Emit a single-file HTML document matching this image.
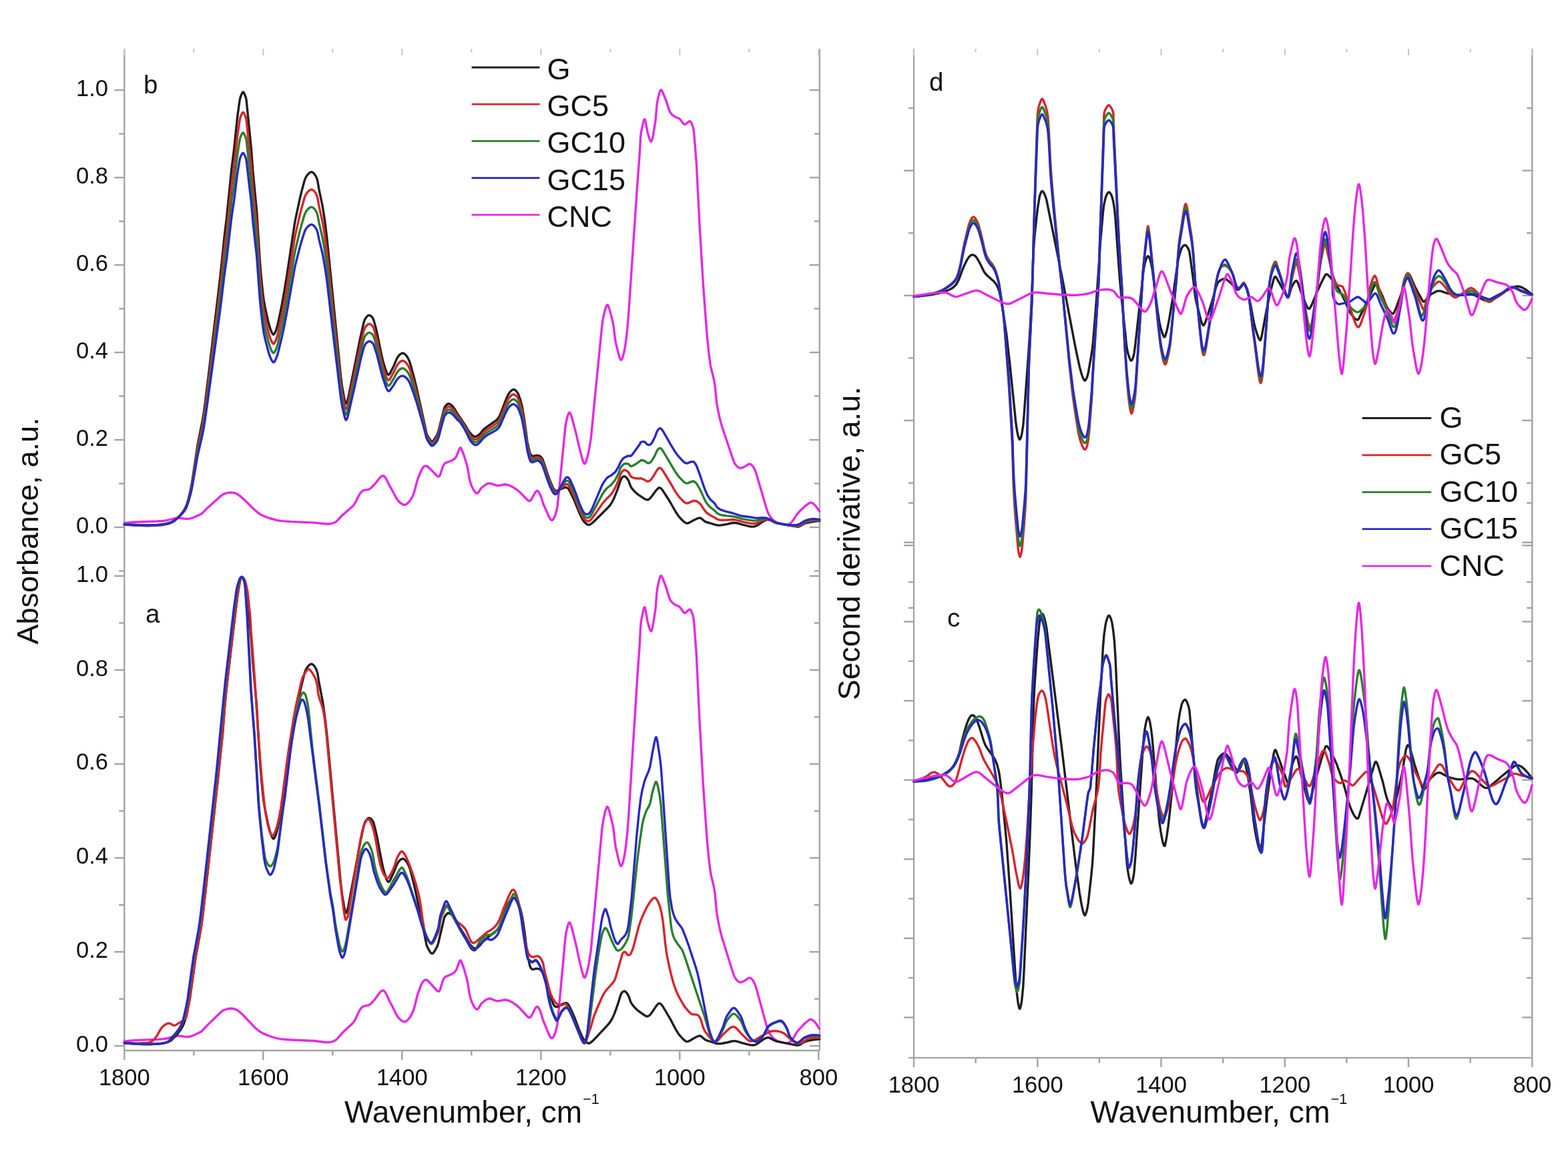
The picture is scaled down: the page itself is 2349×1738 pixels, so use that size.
<!DOCTYPE html>
<html><head><meta charset="utf-8"><style>
html,body{margin:0;padding:0;background:#fff;}
svg{display:block;}
text{font-family:"Liberation Sans",Arial,sans-serif;fill:#111;}
</style></head><body>
<svg xmlns="http://www.w3.org/2000/svg" width="2349" height="1738" viewBox="0 0 2349 1738">
<rect width="2349" height="1738" fill="#fff"/>
<line x1="186.3" y1="73.3" x2="186.3" y2="1574.0" stroke="#a3a3a3" stroke-width="2.4"/>
<line x1="1227.8" y1="73.3" x2="1227.8" y2="1574.0" stroke="#a3a3a3" stroke-width="2.4"/>
<line x1="186.3" y1="1574.0" x2="1227.8" y2="1574.0" stroke="#a3a3a3" stroke-width="2.4"/>
<line x1="178.3" y1="855.5" x2="186.3" y2="855.5" stroke="#a3a3a3" stroke-width="2.4"/>
<line x1="1219.8" y1="855.5" x2="1227.8" y2="855.5" stroke="#a3a3a3" stroke-width="2.4"/>
<line x1="171.3" y1="790.0" x2="186.3" y2="790.0" stroke="#a3a3a3" stroke-width="2.4"/>
<line x1="1212.8" y1="790.0" x2="1227.8" y2="790.0" stroke="#a3a3a3" stroke-width="2.4"/>
<text x="162.0" y="798.7" font-size="34.5" text-anchor="end" >0.0</text>
<line x1="178.3" y1="724.5" x2="186.3" y2="724.5" stroke="#a3a3a3" stroke-width="2.4"/>
<line x1="1219.8" y1="724.5" x2="1227.8" y2="724.5" stroke="#a3a3a3" stroke-width="2.4"/>
<line x1="171.3" y1="659.0" x2="186.3" y2="659.0" stroke="#a3a3a3" stroke-width="2.4"/>
<line x1="1212.8" y1="659.0" x2="1227.8" y2="659.0" stroke="#a3a3a3" stroke-width="2.4"/>
<text x="162.0" y="667.7" font-size="34.5" text-anchor="end" >0.2</text>
<line x1="178.3" y1="593.5" x2="186.3" y2="593.5" stroke="#a3a3a3" stroke-width="2.4"/>
<line x1="1219.8" y1="593.5" x2="1227.8" y2="593.5" stroke="#a3a3a3" stroke-width="2.4"/>
<line x1="171.3" y1="528.0" x2="186.3" y2="528.0" stroke="#a3a3a3" stroke-width="2.4"/>
<line x1="1212.8" y1="528.0" x2="1227.8" y2="528.0" stroke="#a3a3a3" stroke-width="2.4"/>
<text x="162.0" y="536.7" font-size="34.5" text-anchor="end" >0.4</text>
<line x1="178.3" y1="462.5" x2="186.3" y2="462.5" stroke="#a3a3a3" stroke-width="2.4"/>
<line x1="1219.8" y1="462.5" x2="1227.8" y2="462.5" stroke="#a3a3a3" stroke-width="2.4"/>
<line x1="171.3" y1="397.0" x2="186.3" y2="397.0" stroke="#a3a3a3" stroke-width="2.4"/>
<line x1="1212.8" y1="397.0" x2="1227.8" y2="397.0" stroke="#a3a3a3" stroke-width="2.4"/>
<text x="162.0" y="405.7" font-size="34.5" text-anchor="end" >0.6</text>
<line x1="178.3" y1="331.5" x2="186.3" y2="331.5" stroke="#a3a3a3" stroke-width="2.4"/>
<line x1="1219.8" y1="331.5" x2="1227.8" y2="331.5" stroke="#a3a3a3" stroke-width="2.4"/>
<line x1="171.3" y1="266.0" x2="186.3" y2="266.0" stroke="#a3a3a3" stroke-width="2.4"/>
<line x1="1212.8" y1="266.0" x2="1227.8" y2="266.0" stroke="#a3a3a3" stroke-width="2.4"/>
<text x="162.0" y="274.7" font-size="34.5" text-anchor="end" >0.8</text>
<line x1="178.3" y1="200.5" x2="186.3" y2="200.5" stroke="#a3a3a3" stroke-width="2.4"/>
<line x1="1219.8" y1="200.5" x2="1227.8" y2="200.5" stroke="#a3a3a3" stroke-width="2.4"/>
<line x1="171.3" y1="135.0" x2="186.3" y2="135.0" stroke="#a3a3a3" stroke-width="2.4"/>
<line x1="1212.8" y1="135.0" x2="1227.8" y2="135.0" stroke="#a3a3a3" stroke-width="2.4"/>
<text x="162.0" y="143.7" font-size="34.5" text-anchor="end" >1.0</text>
<line x1="171.3" y1="1567.0" x2="186.3" y2="1567.0" stroke="#a3a3a3" stroke-width="2.4"/>
<line x1="1212.8" y1="1567.0" x2="1227.8" y2="1567.0" stroke="#a3a3a3" stroke-width="2.4"/>
<text x="162.0" y="1575.7" font-size="34.5" text-anchor="end" >0.0</text>
<line x1="178.3" y1="1496.6" x2="186.3" y2="1496.6" stroke="#a3a3a3" stroke-width="2.4"/>
<line x1="1219.8" y1="1496.6" x2="1227.8" y2="1496.6" stroke="#a3a3a3" stroke-width="2.4"/>
<line x1="171.3" y1="1426.2" x2="186.3" y2="1426.2" stroke="#a3a3a3" stroke-width="2.4"/>
<line x1="1212.8" y1="1426.2" x2="1227.8" y2="1426.2" stroke="#a3a3a3" stroke-width="2.4"/>
<text x="162.0" y="1434.9" font-size="34.5" text-anchor="end" >0.2</text>
<line x1="178.3" y1="1355.8" x2="186.3" y2="1355.8" stroke="#a3a3a3" stroke-width="2.4"/>
<line x1="1219.8" y1="1355.8" x2="1227.8" y2="1355.8" stroke="#a3a3a3" stroke-width="2.4"/>
<line x1="171.3" y1="1285.4" x2="186.3" y2="1285.4" stroke="#a3a3a3" stroke-width="2.4"/>
<line x1="1212.8" y1="1285.4" x2="1227.8" y2="1285.4" stroke="#a3a3a3" stroke-width="2.4"/>
<text x="162.0" y="1294.1" font-size="34.5" text-anchor="end" >0.4</text>
<line x1="178.3" y1="1215.0" x2="186.3" y2="1215.0" stroke="#a3a3a3" stroke-width="2.4"/>
<line x1="1219.8" y1="1215.0" x2="1227.8" y2="1215.0" stroke="#a3a3a3" stroke-width="2.4"/>
<line x1="171.3" y1="1144.6" x2="186.3" y2="1144.6" stroke="#a3a3a3" stroke-width="2.4"/>
<line x1="1212.8" y1="1144.6" x2="1227.8" y2="1144.6" stroke="#a3a3a3" stroke-width="2.4"/>
<text x="162.0" y="1153.3" font-size="34.5" text-anchor="end" >0.6</text>
<line x1="178.3" y1="1074.2" x2="186.3" y2="1074.2" stroke="#a3a3a3" stroke-width="2.4"/>
<line x1="1219.8" y1="1074.2" x2="1227.8" y2="1074.2" stroke="#a3a3a3" stroke-width="2.4"/>
<line x1="171.3" y1="1003.8" x2="186.3" y2="1003.8" stroke="#a3a3a3" stroke-width="2.4"/>
<line x1="1212.8" y1="1003.8" x2="1227.8" y2="1003.8" stroke="#a3a3a3" stroke-width="2.4"/>
<text x="162.0" y="1012.5" font-size="34.5" text-anchor="end" >0.8</text>
<line x1="178.3" y1="933.4" x2="186.3" y2="933.4" stroke="#a3a3a3" stroke-width="2.4"/>
<line x1="1219.8" y1="933.4" x2="1227.8" y2="933.4" stroke="#a3a3a3" stroke-width="2.4"/>
<line x1="171.3" y1="863.0" x2="186.3" y2="863.0" stroke="#a3a3a3" stroke-width="2.4"/>
<line x1="1212.8" y1="863.0" x2="1227.8" y2="863.0" stroke="#a3a3a3" stroke-width="2.4"/>
<text x="162.0" y="871.7" font-size="34.5" text-anchor="end" >1.0</text>
<line x1="186.3" y1="1574.0" x2="186.3" y2="1588.0" stroke="#a3a3a3" stroke-width="2.4"/>
<line x1="186.3" y1="73.3" x2="186.3" y2="83.3" stroke="#c4c4c4" stroke-width="2.0"/>
<text x="186.3" y="1626.0" font-size="34.5" text-anchor="middle" >1800</text>
<line x1="290.3" y1="1574.0" x2="290.3" y2="1581.5" stroke="#a3a3a3" stroke-width="2.4"/>
<line x1="290.3" y1="73.3" x2="290.3" y2="78.3" stroke="#c4c4c4" stroke-width="2.0"/>
<line x1="394.3" y1="1574.0" x2="394.3" y2="1588.0" stroke="#a3a3a3" stroke-width="2.4"/>
<line x1="394.3" y1="73.3" x2="394.3" y2="83.3" stroke="#c4c4c4" stroke-width="2.0"/>
<text x="394.3" y="1626.0" font-size="34.5" text-anchor="middle" >1600</text>
<line x1="498.3" y1="1574.0" x2="498.3" y2="1581.5" stroke="#a3a3a3" stroke-width="2.4"/>
<line x1="498.3" y1="73.3" x2="498.3" y2="78.3" stroke="#c4c4c4" stroke-width="2.0"/>
<line x1="602.3" y1="1574.0" x2="602.3" y2="1588.0" stroke="#a3a3a3" stroke-width="2.4"/>
<line x1="602.3" y1="73.3" x2="602.3" y2="83.3" stroke="#c4c4c4" stroke-width="2.0"/>
<text x="602.3" y="1626.0" font-size="34.5" text-anchor="middle" >1400</text>
<line x1="706.3" y1="1574.0" x2="706.3" y2="1581.5" stroke="#a3a3a3" stroke-width="2.4"/>
<line x1="706.3" y1="73.3" x2="706.3" y2="78.3" stroke="#c4c4c4" stroke-width="2.0"/>
<line x1="810.3" y1="1574.0" x2="810.3" y2="1588.0" stroke="#a3a3a3" stroke-width="2.4"/>
<line x1="810.3" y1="73.3" x2="810.3" y2="83.3" stroke="#c4c4c4" stroke-width="2.0"/>
<text x="810.3" y="1626.0" font-size="34.5" text-anchor="middle" >1200</text>
<line x1="914.3" y1="1574.0" x2="914.3" y2="1581.5" stroke="#a3a3a3" stroke-width="2.4"/>
<line x1="914.3" y1="73.3" x2="914.3" y2="78.3" stroke="#c4c4c4" stroke-width="2.0"/>
<line x1="1018.3" y1="1574.0" x2="1018.3" y2="1588.0" stroke="#a3a3a3" stroke-width="2.4"/>
<line x1="1018.3" y1="73.3" x2="1018.3" y2="83.3" stroke="#c4c4c4" stroke-width="2.0"/>
<text x="1018.3" y="1626.0" font-size="34.5" text-anchor="middle" >1000</text>
<line x1="1122.3" y1="1574.0" x2="1122.3" y2="1581.5" stroke="#a3a3a3" stroke-width="2.4"/>
<line x1="1122.3" y1="73.3" x2="1122.3" y2="78.3" stroke="#c4c4c4" stroke-width="2.0"/>
<line x1="1226.3" y1="1574.0" x2="1226.3" y2="1588.0" stroke="#a3a3a3" stroke-width="2.4"/>
<line x1="1226.3" y1="73.3" x2="1226.3" y2="83.3" stroke="#c4c4c4" stroke-width="2.0"/>
<text x="1226.3" y="1626.0" font-size="34.5" text-anchor="middle" >800</text>
<text x="215.0" y="140.0" font-size="38.5" text-anchor="start" >b</text>
<text x="218.0" y="933.0" font-size="38.5" text-anchor="start" >a</text>
<line x1="1369.0" y1="73.3" x2="1369.0" y2="1584.9" stroke="#a3a3a3" stroke-width="2.4"/>
<line x1="2295.3" y1="73.3" x2="2295.3" y2="1584.9" stroke="#a3a3a3" stroke-width="2.4"/>
<line x1="1361.0" y1="1584.9" x2="2295.3" y2="1584.9" stroke="#a3a3a3" stroke-width="2.4"/>
<line x1="1361.0" y1="910.8" x2="1369.0" y2="910.8" stroke="#a3a3a3" stroke-width="2.4"/>
<line x1="2287.3" y1="910.8" x2="2295.3" y2="910.8" stroke="#a3a3a3" stroke-width="2.4"/>
<line x1="1354.0" y1="817.2" x2="1369.0" y2="817.2" stroke="#a3a3a3" stroke-width="2.4"/>
<line x1="2280.3" y1="817.2" x2="2295.3" y2="817.2" stroke="#a3a3a3" stroke-width="2.4"/>
<line x1="1361.0" y1="723.6" x2="1369.0" y2="723.6" stroke="#a3a3a3" stroke-width="2.4"/>
<line x1="2287.3" y1="723.6" x2="2295.3" y2="723.6" stroke="#a3a3a3" stroke-width="2.4"/>
<line x1="1354.0" y1="630.0" x2="1369.0" y2="630.0" stroke="#a3a3a3" stroke-width="2.4"/>
<line x1="2280.3" y1="630.0" x2="2295.3" y2="630.0" stroke="#a3a3a3" stroke-width="2.4"/>
<line x1="1361.0" y1="536.4" x2="1369.0" y2="536.4" stroke="#a3a3a3" stroke-width="2.4"/>
<line x1="2287.3" y1="536.4" x2="2295.3" y2="536.4" stroke="#a3a3a3" stroke-width="2.4"/>
<line x1="1354.0" y1="442.8" x2="1369.0" y2="442.8" stroke="#a3a3a3" stroke-width="2.4"/>
<line x1="2280.3" y1="442.8" x2="2295.3" y2="442.8" stroke="#a3a3a3" stroke-width="2.4"/>
<line x1="1361.0" y1="349.2" x2="1369.0" y2="349.2" stroke="#a3a3a3" stroke-width="2.4"/>
<line x1="2287.3" y1="349.2" x2="2295.3" y2="349.2" stroke="#a3a3a3" stroke-width="2.4"/>
<line x1="1354.0" y1="255.6" x2="1369.0" y2="255.6" stroke="#a3a3a3" stroke-width="2.4"/>
<line x1="2280.3" y1="255.6" x2="2295.3" y2="255.6" stroke="#a3a3a3" stroke-width="2.4"/>
<line x1="1361.0" y1="162.0" x2="1369.0" y2="162.0" stroke="#a3a3a3" stroke-width="2.4"/>
<line x1="2287.3" y1="162.0" x2="2295.3" y2="162.0" stroke="#a3a3a3" stroke-width="2.4"/>
<line x1="1354.0" y1="1524.4" x2="1369.0" y2="1524.4" stroke="#a3a3a3" stroke-width="2.4"/>
<line x1="2280.3" y1="1524.4" x2="2295.3" y2="1524.4" stroke="#a3a3a3" stroke-width="2.4"/>
<line x1="1361.0" y1="1465.1" x2="1369.0" y2="1465.1" stroke="#a3a3a3" stroke-width="2.4"/>
<line x1="2287.3" y1="1465.1" x2="2295.3" y2="1465.1" stroke="#a3a3a3" stroke-width="2.4"/>
<line x1="1354.0" y1="1405.8" x2="1369.0" y2="1405.8" stroke="#a3a3a3" stroke-width="2.4"/>
<line x1="2280.3" y1="1405.8" x2="2295.3" y2="1405.8" stroke="#a3a3a3" stroke-width="2.4"/>
<line x1="1361.0" y1="1346.5" x2="1369.0" y2="1346.5" stroke="#a3a3a3" stroke-width="2.4"/>
<line x1="2287.3" y1="1346.5" x2="2295.3" y2="1346.5" stroke="#a3a3a3" stroke-width="2.4"/>
<line x1="1354.0" y1="1287.2" x2="1369.0" y2="1287.2" stroke="#a3a3a3" stroke-width="2.4"/>
<line x1="2280.3" y1="1287.2" x2="2295.3" y2="1287.2" stroke="#a3a3a3" stroke-width="2.4"/>
<line x1="1361.0" y1="1227.9" x2="1369.0" y2="1227.9" stroke="#a3a3a3" stroke-width="2.4"/>
<line x1="2287.3" y1="1227.9" x2="2295.3" y2="1227.9" stroke="#a3a3a3" stroke-width="2.4"/>
<line x1="1354.0" y1="1168.6" x2="1369.0" y2="1168.6" stroke="#a3a3a3" stroke-width="2.4"/>
<line x1="2280.3" y1="1168.6" x2="2295.3" y2="1168.6" stroke="#a3a3a3" stroke-width="2.4"/>
<line x1="1361.0" y1="1109.3" x2="1369.0" y2="1109.3" stroke="#a3a3a3" stroke-width="2.4"/>
<line x1="2287.3" y1="1109.3" x2="2295.3" y2="1109.3" stroke="#a3a3a3" stroke-width="2.4"/>
<line x1="1354.0" y1="1050.0" x2="1369.0" y2="1050.0" stroke="#a3a3a3" stroke-width="2.4"/>
<line x1="2280.3" y1="1050.0" x2="2295.3" y2="1050.0" stroke="#a3a3a3" stroke-width="2.4"/>
<line x1="1361.0" y1="990.7" x2="1369.0" y2="990.7" stroke="#a3a3a3" stroke-width="2.4"/>
<line x1="2287.3" y1="990.7" x2="2295.3" y2="990.7" stroke="#a3a3a3" stroke-width="2.4"/>
<line x1="1354.0" y1="931.4" x2="1369.0" y2="931.4" stroke="#a3a3a3" stroke-width="2.4"/>
<line x1="2280.3" y1="931.4" x2="2295.3" y2="931.4" stroke="#a3a3a3" stroke-width="2.4"/>
<line x1="1361.0" y1="872.1" x2="1369.0" y2="872.1" stroke="#a3a3a3" stroke-width="2.4"/>
<line x1="2287.3" y1="872.1" x2="2295.3" y2="872.1" stroke="#a3a3a3" stroke-width="2.4"/>
<line x1="1354.0" y1="812.8" x2="1369.0" y2="812.8" stroke="#a3a3a3" stroke-width="2.4"/>
<line x1="2280.3" y1="812.8" x2="2295.3" y2="812.8" stroke="#a3a3a3" stroke-width="2.4"/>
<line x1="1361.0" y1="753.5" x2="1369.0" y2="753.5" stroke="#a3a3a3" stroke-width="2.4"/>
<line x1="2287.3" y1="753.5" x2="2295.3" y2="753.5" stroke="#a3a3a3" stroke-width="2.4"/>
<line x1="1369.0" y1="1584.9" x2="1369.0" y2="1598.9" stroke="#a3a3a3" stroke-width="2.4"/>
<line x1="1369.0" y1="73.3" x2="1369.0" y2="83.3" stroke="#c4c4c4" stroke-width="2.0"/>
<text x="1369.0" y="1637.0" font-size="34.5" text-anchor="middle" >1800</text>
<line x1="1461.6" y1="1584.9" x2="1461.6" y2="1592.9" stroke="#a3a3a3" stroke-width="2.4"/>
<line x1="1461.6" y1="73.3" x2="1461.6" y2="78.3" stroke="#c4c4c4" stroke-width="2.0"/>
<line x1="1554.3" y1="1584.9" x2="1554.3" y2="1598.9" stroke="#a3a3a3" stroke-width="2.4"/>
<line x1="1554.3" y1="73.3" x2="1554.3" y2="83.3" stroke="#c4c4c4" stroke-width="2.0"/>
<text x="1554.3" y="1637.0" font-size="34.5" text-anchor="middle" >1600</text>
<line x1="1646.9" y1="1584.9" x2="1646.9" y2="1592.9" stroke="#a3a3a3" stroke-width="2.4"/>
<line x1="1646.9" y1="73.3" x2="1646.9" y2="78.3" stroke="#c4c4c4" stroke-width="2.0"/>
<line x1="1739.5" y1="1584.9" x2="1739.5" y2="1598.9" stroke="#a3a3a3" stroke-width="2.4"/>
<line x1="1739.5" y1="73.3" x2="1739.5" y2="83.3" stroke="#c4c4c4" stroke-width="2.0"/>
<text x="1739.5" y="1637.0" font-size="34.5" text-anchor="middle" >1400</text>
<line x1="1832.2" y1="1584.9" x2="1832.2" y2="1592.9" stroke="#a3a3a3" stroke-width="2.4"/>
<line x1="1832.2" y1="73.3" x2="1832.2" y2="78.3" stroke="#c4c4c4" stroke-width="2.0"/>
<line x1="1924.8" y1="1584.9" x2="1924.8" y2="1598.9" stroke="#a3a3a3" stroke-width="2.4"/>
<line x1="1924.8" y1="73.3" x2="1924.8" y2="83.3" stroke="#c4c4c4" stroke-width="2.0"/>
<text x="1924.8" y="1637.0" font-size="34.5" text-anchor="middle" >1200</text>
<line x1="2017.4" y1="1584.9" x2="2017.4" y2="1592.9" stroke="#a3a3a3" stroke-width="2.4"/>
<line x1="2017.4" y1="73.3" x2="2017.4" y2="78.3" stroke="#c4c4c4" stroke-width="2.0"/>
<line x1="2110.0" y1="1584.9" x2="2110.0" y2="1598.9" stroke="#a3a3a3" stroke-width="2.4"/>
<line x1="2110.0" y1="73.3" x2="2110.0" y2="83.3" stroke="#c4c4c4" stroke-width="2.0"/>
<text x="2110.0" y="1637.0" font-size="34.5" text-anchor="middle" >1000</text>
<line x1="2202.7" y1="1584.9" x2="2202.7" y2="1592.9" stroke="#a3a3a3" stroke-width="2.4"/>
<line x1="2202.7" y1="73.3" x2="2202.7" y2="78.3" stroke="#c4c4c4" stroke-width="2.0"/>
<line x1="2295.3" y1="1584.9" x2="2295.3" y2="1598.9" stroke="#a3a3a3" stroke-width="2.4"/>
<line x1="2295.3" y1="73.3" x2="2295.3" y2="83.3" stroke="#c4c4c4" stroke-width="2.0"/>
<text x="2295.3" y="1637.0" font-size="34.5" text-anchor="middle" >800</text>
<text x="1392.0" y="136.0" font-size="38.5" text-anchor="start" >d</text>
<text x="1419.0" y="939.0" font-size="38.5" text-anchor="start" >c</text>
<text x="57" y="795.5" font-size="45" text-anchor="middle" transform="rotate(-90 57 795.5)">Absorbance, a.u.</text>
<text x="1288" y="814" font-size="46.2" text-anchor="middle" transform="rotate(-90 1288 814)">Second derivative, a.u.</text>
<text x="516" y="1682" font-size="46">Wavenumber, cm<tspan font-size="21.5" dx="1" dy="-28">−1</tspan></text>
<text x="1633.5" y="1682" font-size="46.4">Wavenumber, cm<tspan font-size="21.5" dx="1" dy="-28">−1</tspan></text>
<line x1="706.6" y1="101.0" x2="808.5" y2="101.0" stroke="#1e1e1e" stroke-width="2.8"/>
<text x="819.5" y="119.0" font-size="45" text-anchor="start" >G</text>
<line x1="706.6" y1="156.2" x2="808.5" y2="156.2" stroke="#d8242c" stroke-width="2.8"/>
<text x="819.5" y="174.2" font-size="45" text-anchor="start" >GC5</text>
<line x1="706.6" y1="211.4" x2="808.5" y2="211.4" stroke="#2a7f2a" stroke-width="2.8"/>
<text x="819.5" y="229.4" font-size="45" text-anchor="start" >GC10</text>
<line x1="706.6" y1="266.6" x2="808.5" y2="266.6" stroke="#2828c8" stroke-width="2.8"/>
<text x="819.5" y="284.6" font-size="45" text-anchor="start" >GC15</text>
<line x1="706.6" y1="321.8" x2="808.5" y2="321.8" stroke="#e628e6" stroke-width="2.8"/>
<text x="819.5" y="339.8" font-size="45" text-anchor="start" >CNC</text>
<line x1="2040.7" y1="626.5" x2="2144.3" y2="626.5" stroke="#1e1e1e" stroke-width="2.8"/>
<text x="2156.5" y="641.0" font-size="45" text-anchor="start" >G</text>
<line x1="2040.7" y1="681.9" x2="2144.3" y2="681.9" stroke="#d8242c" stroke-width="2.8"/>
<text x="2156.5" y="696.4" font-size="45" text-anchor="start" >GC5</text>
<line x1="2040.7" y1="737.3" x2="2144.3" y2="737.3" stroke="#2a7f2a" stroke-width="2.8"/>
<text x="2156.5" y="751.8" font-size="45" text-anchor="start" >GC10</text>
<line x1="2040.7" y1="792.7" x2="2144.3" y2="792.7" stroke="#2828c8" stroke-width="2.8"/>
<text x="2156.5" y="807.2" font-size="45" text-anchor="start" >GC15</text>
<line x1="2040.7" y1="848.1" x2="2144.3" y2="848.1" stroke="#e628e6" stroke-width="2.8"/>
<text x="2156.5" y="862.6" font-size="45" text-anchor="start" >CNC</text>
<g fill="none" stroke-width="3.4" stroke-linejoin="round" stroke-linecap="round">
<path d="M186.3,783.7 195.3,782.7 201.1,782.2 235.8,781.0 243.8,780.5 249.6,779.7 261.1,776.9 266.6,776.0 269.1,776.1 274.8,777.0 280.1,777.4 283.3,777.2 286.1,776.7 289.3,775.5 297.8,771.9 300.1,770.8 302.1,769.5 304.3,767.6 309.8,762.0 330.3,743.5 332.8,741.5 335.3,740.2 339.1,738.9 342.6,738.1 345.6,737.9 348.6,738.1 351.6,738.7 354.1,739.6 356.3,740.8 359.8,743.4 363.6,746.6 368.3,751.1 379.1,761.8 382.8,765.2 386.3,768.0 390.3,770.7 394.1,772.7 398.6,774.6 404.3,776.5 411.1,778.5 415.8,779.6 420.1,780.4 425.6,780.9 436.1,781.6 471.1,783.1 488.3,785.0 492.8,785.0 496.8,784.4 500.8,783.1 502.6,782.2 504.1,781.1 506.3,779.0 512.3,772.4 526.3,760.3 528.8,758.0 530.5,755.8 532.3,753.1 536.8,744.0 538.5,740.8 540.0,738.6 541.8,736.6 543.3,735.5 544.8,734.7 551.8,733.3 553.3,732.8 554.8,731.9 557.8,729.1 562.0,724.7 569.5,715.2 571.3,713.7 572.8,712.9 574.0,712.8 575.3,713.3 576.5,714.5 577.8,716.2 579.5,719.4 583.5,727.6 587.3,734.2 592.3,743.7 594.5,747.5 596.5,750.3 599.8,753.5 601.5,754.7 603.3,755.7 604.8,756.2 606.0,756.4 607.3,756.2 608.5,755.7 611.0,753.7 613.8,750.6 616.3,746.8 618.8,741.9 621.0,735.8 624.3,722.8 626.0,717.2 631.0,705.0 632.8,701.8 634.3,699.8 635.8,698.5 637.3,698.0 638.8,698.2 640.3,698.9 643.5,701.6 654.5,712.8 656.3,714.0 657.0,714.0 657.5,713.9 658.5,712.9 659.5,711.0 663.0,700.2 664.0,697.8 665.3,695.6 666.3,694.5 667.5,693.6 675.8,690.5 679.3,688.5 681.5,686.8 683.0,684.8 684.3,682.5 688.3,672.5 689.0,671.3 689.8,670.8 690.3,671.0 691.0,672.2 693.5,678.2 696.0,685.4 699.0,695.3 700.8,702.7 703.3,717.4 704.3,721.6 705.3,724.8 707.0,729.2 709.0,733.3 711.0,736.4 713.0,738.5 713.8,739.0 714.5,739.1 715.8,738.6 717.3,736.8 720.5,731.9 722.3,730.0 727.3,726.3 729.3,725.2 731.3,724.4 733.3,724.2 735.3,724.4 742.3,726.9 745.3,727.5 748.3,727.3 755.0,726.0 756.8,725.8 758.5,726.0 761.8,726.8 765.5,728.4 769.5,730.6 774.3,733.7 778.8,737.5 789.3,748.3 791.5,750.1 793.0,750.6 793.8,750.4 794.5,750.0 796.0,748.2 797.5,745.8 801.0,739.3 802.5,737.0 804.0,735.6 804.8,735.4 805.3,735.4 806.0,735.9 807.0,737.1 809.3,741.3 810.5,744.5 814.0,755.3 822.3,774.1 824.0,777.1 825.5,778.9 826.5,779.4 827.0,779.4 827.8,779.0 828.8,777.9 829.8,776.3 831.8,771.6 833.8,765.1 835.0,759.0 837.0,740.3 847.0,639.1 847.8,634.1 849.3,627.1 850.8,622.0 852.0,619.1 853.0,618.0 853.5,618.1 854.0,618.7 855.5,622.1 857.0,626.8 863.3,650.6 868.3,672.6 872.3,687.4 874.0,692.6 874.8,694.1 875.3,694.7 875.8,694.8 876.5,694.3 877.3,693.0 878.0,691.3 880.0,684.6 881.8,676.9 883.5,667.8 884.8,659.8 886.0,649.8 889.3,615.2 901.8,488.5 903.0,480.0 904.8,470.9 906.5,463.8 908.3,458.8 909.0,457.4 909.5,456.8 910.0,456.7 910.8,457.5 911.5,458.9 912.5,461.6 914.5,468.6 917.8,481.5 918.8,486.5 919.8,493.3 921.3,506.1 922.5,513.8 926.5,529.9 928.5,536.6 929.8,539.0 930.3,539.3 931.0,539.0 931.8,537.8 932.5,536.1 934.3,530.2 936.3,520.5 937.8,510.2 939.8,492.4 941.5,472.7 954.5,280.5 958.5,227.1 959.5,206.8 960.3,199.6 961.0,195.3 963.8,182.6 964.8,179.5 965.3,178.6 965.8,178.6 966.3,179.3 967.0,181.8 970.0,197.9 971.8,204.4 973.0,208.1 974.3,210.9 974.8,211.7 975.3,212.1 975.8,211.8 976.0,211.4 977.3,207.7 978.5,202.3 981.5,184.3 982.3,177.7 983.8,159.4 985.0,150.9 987.0,142.3 988.3,137.8 989.3,135.5 989.8,134.9 990.3,134.7 990.8,135.0 991.5,135.8 993.3,139.2 998.3,152.1 1002.5,164.9 1003.8,167.8 1005.3,170.1 1007.5,172.4 1010.5,174.6 1012.3,175.5 1016.3,177.0 1018.0,178.1 1019.8,179.9 1023.3,184.8 1025.0,186.3 1026.0,186.5 1027.0,186.1 1032.0,182.0 1033.0,181.5 1034.0,181.7 1035.3,183.3 1037.0,187.0 1038.3,190.8 1039.0,194.2 1040.0,202.9 1043.3,244.5 1047.8,333.0 1053.5,427.4 1058.8,497.8 1060.3,514.1 1062.0,529.9 1064.5,548.3 1065.8,553.9 1069.0,566.5 1070.3,572.7 1071.3,579.9 1073.0,597.7 1074.0,605.8 1075.3,612.8 1077.5,623.6 1079.8,632.6 1082.0,640.3 1098.8,690.3 1100.5,694.1 1102.8,697.4 1105.3,699.8 1106.5,700.6 1107.8,701.1 1108.8,701.3 1110.0,701.3 1112.5,700.5 1116.8,698.5 1121.0,695.6 1122.5,695.1 1123.8,695.2 1125.3,696.1 1127.0,697.7 1128.5,699.6 1130.8,703.7 1132.8,709.0 1147.3,758.4 1150.0,767.0 1152.3,771.6 1155.0,775.6 1158.5,779.4 1161.8,781.8 1164.3,783.0 1167.0,784.0 1175.0,785.9 1177.3,786.2 1179.3,786.1 1181.0,785.8 1182.5,785.1 1184.8,783.5 1187.0,781.0 1188.8,778.6 1193.3,771.4 1196.8,767.3 1202.3,761.9 1207.0,757.6 1211.3,754.3 1213.5,753.2 1215.0,753.2 1216.3,753.5 1217.8,754.2 1219.3,755.4 1221.0,757.2 1222.8,759.3 1227.3,765.8 1227.8,765.8" stroke="#e628e6"/>
<path d="M186.3,786.0 198.3,786.9 208.3,787.4 220.6,787.7 228.8,787.6 237.3,787.1 243.1,786.5 250.8,785.1 255.8,783.5 259.8,781.5 263.6,778.5 268.6,773.5 273.3,767.8 276.1,763.6 278.3,759.3 280.1,754.8 282.1,748.0 284.1,740.0 287.3,724.7 296.1,666.3 303.3,630.0 305.1,619.7 306.8,607.4 312.3,562.9 329.6,417.2 332.8,387.1 336.1,354.7 339.6,325.8 346.8,253.7 350.8,221.7 355.3,178.1 358.6,153.5 359.6,147.7 360.6,144.3 362.1,140.8 363.3,138.5 364.1,137.9 364.6,138.0 365.3,138.9 367.3,143.2 368.3,146.1 369.1,150.0 376.3,221.7 378.8,255.6 384.6,316.1 389.3,391.1 391.3,415.0 393.6,438.0 395.1,449.2 397.1,460.5 401.6,480.9 404.6,491.7 406.1,495.8 407.6,499.0 409.1,501.0 409.6,501.3 410.1,501.2 411.3,499.8 413.1,496.1 414.8,490.9 416.3,485.2 422.3,456.4 425.3,439.7 430.1,410.5 440.8,338.9 442.3,329.9 449.1,298.0 451.8,286.9 455.8,272.0 457.1,268.0 458.6,264.8 460.6,262.0 463.1,259.4 464.8,258.1 466.6,257.7 468.1,258.1 469.8,259.4 471.8,261.8 473.6,264.8 474.8,267.7 475.8,271.2 477.8,283.1 483.3,309.5 486.1,327.2 488.3,344.1 490.1,359.5 510.6,564.5 512.5,579.1 515.5,595.6 517.0,602.2 517.8,604.2 518.3,604.8 518.5,604.9 519.0,604.5 519.8,603.0 521.8,595.5 540.0,504.9 545.0,483.1 546.5,478.8 547.5,477.0 548.8,475.3 550.3,473.7 551.5,472.8 552.8,472.3 553.8,472.4 555.5,473.3 557.5,475.2 559.0,477.6 560.0,480.1 562.8,490.3 564.8,498.6 570.8,528.2 573.5,540.3 575.0,545.6 578.3,555.7 579.5,558.8 580.8,560.9 581.5,561.5 582.3,561.5 583.3,560.7 584.3,559.4 590.0,547.9 593.5,539.6 595.0,536.5 597.5,532.8 598.8,531.5 600.3,530.2 601.8,529.4 603.0,529.1 604.3,529.3 605.8,530.1 607.3,531.4 609.0,533.3 610.5,535.5 612.0,538.2 613.5,541.7 615.0,546.1 620.5,566.4 624.8,584.6 636.8,638.7 638.8,648.4 639.5,650.6 640.8,653.3 643.8,658.2 645.5,660.4 646.5,661.1 647.3,661.3 648.3,661.0 649.3,660.2 651.5,657.1 655.0,651.1 656.8,646.1 665.3,612.4 666.0,610.6 667.3,608.5 668.8,606.7 670.3,605.4 671.8,604.9 672.8,605.0 673.8,605.3 676.0,606.8 678.3,609.0 680.8,612.4 685.5,620.3 696.5,636.4 701.0,644.1 703.5,647.8 706.0,650.7 708.5,652.9 710.8,654.1 711.8,654.3 712.8,654.2 715.0,653.2 718.0,650.9 720.3,648.6 724.0,643.9 725.8,642.2 741.5,631.1 744.0,629.1 746.0,627.0 747.8,624.5 749.3,621.5 757.8,599.1 759.8,594.4 761.5,591.0 764.0,587.3 765.5,585.7 766.8,584.6 768.0,583.9 769.0,583.6 770.0,583.7 771.0,584.0 772.5,585.1 774.0,586.7 775.5,588.7 776.5,590.6 779.3,598.3 781.5,606.2 782.8,612.4 785.8,630.8 790.0,661.8 791.3,668.0 793.3,676.4 794.0,679.0 794.8,680.6 796.3,682.5 797.0,683.0 798.0,683.4 799.3,683.4 803.3,682.3 805.5,682.4 807.5,682.8 808.8,683.3 809.8,684.1 811.8,686.4 812.8,688.1 813.8,690.5 820.3,710.3 823.8,719.8 828.5,730.9 829.8,733.1 831.0,734.6 831.8,735.1 832.8,735.5 834.5,735.4 843.8,731.2 847.0,730.3 848.3,730.3 849.3,730.6 850.5,731.5 851.5,732.5 853.8,736.2 859.0,746.8 861.5,752.5 868.0,768.6 872.5,778.1 873.8,780.2 875.5,782.2 878.5,784.9 880.5,786.2 882.0,786.5 883.5,786.1 886.0,784.5 889.0,782.1 893.0,778.3 909.5,761.7 912.3,758.8 914.3,756.4 917.5,751.3 920.5,745.0 926.0,730.9 928.8,721.9 930.3,718.1 931.3,716.4 932.5,714.9 934.0,714.0 935.3,713.7 936.3,714.0 937.5,714.8 939.0,716.3 940.5,718.3 942.0,721.1 944.3,727.6 945.3,729.7 947.0,732.2 950.0,735.7 953.3,738.8 956.8,741.6 965.3,747.2 968.0,748.6 969.5,748.8 970.8,748.7 972.3,747.9 973.8,746.7 976.5,743.5 983.0,734.6 985.8,731.7 986.8,731.0 987.8,730.7 988.8,730.9 989.8,731.4 991.0,732.6 992.3,734.1 996.0,739.7 1003.8,752.0 1012.0,766.5 1015.8,772.2 1019.0,776.2 1023.8,781.0 1026.3,783.0 1028.5,783.9 1030.0,784.0 1031.8,783.5 1039.0,779.6 1043.8,777.2 1046.5,776.2 1048.3,776.0 1049.3,776.2 1050.5,776.8 1055.3,780.7 1057.5,782.0 1071.3,786.2 1074.0,786.8 1077.0,787.1 1080.8,786.7 1089.0,785.4 1096.8,783.5 1100.5,783.2 1104.5,783.8 1112.5,786.2 1121.5,788.4 1125.0,789.0 1128.0,789.1 1130.5,788.7 1133.0,787.8 1135.5,786.4 1141.3,782.5 1145.8,779.9 1148.5,778.8 1150.8,778.5 1152.3,778.7 1154.0,779.3 1160.3,782.6 1163.3,783.6 1189.5,788.4 1195.0,789.2 1196.5,789.0 1198.3,788.4 1204.5,784.7 1207.5,783.6 1218.5,781.5 1223.3,780.9 1227.8,780.6" stroke="#1e1e1e"/>
<path d="M186.3,785.9 209.1,787.2 220.8,787.4 229.1,787.2 237.6,786.8 243.1,786.2 250.6,784.8 255.6,783.3 259.6,781.4 263.3,778.6 268.6,773.6 273.3,768.2 276.1,764.3 278.3,760.2 280.1,755.9 282.1,749.5 284.1,741.9 287.3,727.3 296.1,671.6 303.1,638.2 304.8,628.6 306.6,617.1 312.3,572.7 329.6,433.5 336.1,374.0 339.6,346.4 346.8,277.9 350.8,247.5 355.3,206.2 358.6,183.0 359.6,177.5 360.6,174.3 362.1,171.0 363.3,168.9 364.1,168.3 364.6,168.5 365.3,169.4 367.3,173.5 368.3,176.4 369.1,180.0 376.3,248.6 378.8,280.9 384.6,338.6 389.3,410.1 391.3,432.8 393.6,454.7 395.1,465.4 397.1,476.2 401.6,495.6 404.6,506.0 406.1,509.9 407.6,512.9 409.1,514.9 409.6,515.1 410.1,515.0 411.3,513.8 413.1,510.3 414.8,505.4 416.3,499.9 422.3,472.6 425.3,456.8 430.1,429.0 440.8,361.0 442.3,352.5 449.1,322.2 451.8,311.7 455.8,297.5 457.1,293.8 458.6,290.7 460.6,288.0 463.1,285.5 464.8,284.4 466.6,283.9 468.1,284.3 469.8,285.6 471.8,287.8 473.6,290.7 474.8,293.5 475.8,296.8 477.8,308.1 483.3,333.2 486.1,350.1 488.3,366.2 490.1,380.8 510.6,575.0 512.5,588.8 515.5,604.3 517.0,610.5 517.8,612.4 518.3,612.9 518.5,613.0 519.0,612.6 519.8,611.1 520.8,607.9 522.0,602.8 540.0,516.6 545.0,495.6 546.5,491.6 547.5,489.9 548.8,488.2 550.3,486.7 551.5,485.8 552.8,485.4 554.0,485.4 556.0,486.5 558.0,488.5 559.3,490.6 560.3,493.2 564.8,509.8 571.0,538.6 573.5,548.9 578.3,563.8 579.5,566.9 580.8,568.9 581.5,569.6 582.3,569.7 583.3,569.0 584.3,567.8 590.0,557.4 593.5,549.9 595.0,547.1 597.5,543.7 600.3,541.4 601.8,540.7 603.0,540.4 604.3,540.7 605.8,541.4 607.5,542.8 609.3,544.7 610.8,546.8 612.3,549.4 614.0,553.4 615.5,557.8 619.5,571.3 623.0,584.4 633.5,627.9 638.8,650.9 639.5,653.0 640.8,655.6 643.8,660.4 645.5,662.6 646.5,663.3 647.3,663.5 648.3,663.3 649.3,662.6 652.0,659.0 654.0,656.0 655.3,653.7 656.8,649.5 665.3,616.6 666.3,614.3 667.5,612.4 669.0,610.8 670.5,609.6 671.5,609.3 672.3,609.2 674.0,609.7 676.3,611.1 678.8,613.5 680.8,616.1 684.8,622.3 690.0,629.1 695.0,636.5 697.5,640.6 702.3,649.4 704.5,652.7 707.0,655.6 709.3,657.4 711.3,658.3 713.0,658.4 715.3,657.4 717.8,655.3 720.0,653.0 724.0,648.1 726.0,646.3 730.3,643.2 742.0,635.5 744.5,633.5 746.3,631.8 747.8,629.7 749.3,626.8 757.5,606.0 759.5,601.5 761.3,598.2 763.8,594.7 766.5,592.0 767.8,591.3 768.8,591.0 769.8,591.0 770.8,591.3 772.3,592.3 773.8,593.7 775.3,595.6 776.3,597.3 778.5,603.1 781.3,611.9 782.5,617.5 785.5,634.9 790.0,666.2 791.3,672.1 793.3,680.1 794.0,682.5 794.8,684.1 796.3,685.8 797.0,686.2 798.0,686.5 799.3,686.3 802.0,685.3 803.3,685.0 805.0,685.0 806.8,685.3 809.0,686.4 810.0,687.2 811.3,688.8 812.5,690.8 813.5,693.1 820.5,714.0 824.0,723.3 828.5,733.3 829.8,735.3 831.0,736.5 831.8,737.0 832.8,737.2 833.8,737.0 835.0,736.4 844.3,727.8 847.3,725.6 848.5,725.3 849.5,725.5 850.8,726.2 851.8,727.2 854.0,730.7 858.8,740.6 861.8,747.7 868.0,763.8 872.5,773.6 873.8,775.8 875.3,777.6 877.3,779.3 879.5,780.7 881.0,781.1 882.5,780.8 884.0,779.8 885.8,778.0 891.0,771.1 902.8,754.1 907.8,748.3 914.0,742.2 916.8,738.9 920.3,733.2 922.8,728.2 926.3,720.1 928.8,712.7 930.0,709.7 931.5,707.2 933.5,705.1 935.0,704.4 936.3,704.3 937.8,704.8 939.8,706.0 941.0,707.1 942.0,708.4 944.8,713.6 945.8,714.5 947.0,715.2 950.0,716.2 953.0,716.8 958.0,717.0 958.8,717.0 959.5,716.6 960.3,716.7 964.5,718.4 969.0,721.0 970.8,721.3 971.8,721.0 973.0,720.4 974.3,719.5 975.5,718.2 979.5,712.4 984.5,703.9 986.5,701.8 987.5,701.2 988.3,701.1 989.3,701.3 990.5,702.2 991.8,703.6 993.5,706.0 1004.3,723.6 1011.5,736.1 1014.8,741.1 1018.5,745.8 1024.3,751.6 1025.8,752.8 1027.0,753.5 1028.3,753.9 1029.5,754.0 1031.5,753.6 1036.8,751.1 1039.0,750.3 1039.8,750.2 1041.8,750.5 1043.8,751.0 1047.3,753.4 1049.3,755.3 1051.0,757.7 1055.5,764.6 1057.0,766.5 1059.0,768.5 1064.0,772.0 1069.8,774.9 1073.5,777.5 1075.3,778.3 1078.3,779.0 1081.5,779.2 1089.0,779.1 1096.5,778.5 1100.3,778.7 1104.0,779.4 1113.5,782.1 1124.0,784.2 1128.5,784.6 1131.3,784.3 1134.0,783.6 1141.3,780.3 1146.3,778.5 1148.3,778.0 1150.3,778.0 1153.3,778.8 1160.3,782.5 1163.8,783.7 1182.0,787.0 1187.8,787.7 1194.0,788.2 1195.8,788.1 1197.5,787.6 1199.5,786.6 1205.0,783.2 1207.0,782.5 1209.8,781.7 1214.3,780.7 1218.5,780.1 1222.8,779.9 1227.8,779.9" stroke="#d8242c"/>
<path d="M186.3,785.8 209.6,786.9 221.1,787.1 229.1,786.9 237.3,786.5 242.8,785.9 250.1,784.7 255.1,783.3 259.1,781.5 262.8,778.9 268.3,774.0 273.3,768.7 276.1,765.0 278.3,761.1 280.1,757.0 282.1,751.0 284.1,743.7 287.3,729.9 296.1,676.9 303.1,645.1 304.8,635.8 306.6,624.9 312.3,582.6 329.3,451.9 332.8,422.6 335.8,395.3 339.6,367.1 346.8,302.1 350.8,273.4 355.3,234.3 358.6,212.4 359.6,207.3 360.6,204.3 362.1,201.2 363.3,199.2 364.1,198.8 364.6,199.0 365.3,199.9 367.3,203.9 368.3,206.6 369.1,210.1 376.3,275.5 378.8,306.2 384.6,361.1 389.3,429.0 391.3,450.6 393.6,471.5 395.1,481.6 397.1,491.8 401.6,510.3 404.6,520.2 406.1,524.0 407.6,526.9 409.1,528.7 409.6,528.9 410.1,528.9 411.3,527.7 413.1,524.4 414.8,519.8 416.3,514.6 422.3,488.8 425.3,473.8 430.1,447.6 440.8,383.2 442.3,375.1 449.1,346.4 451.8,336.4 455.8,323.0 457.1,319.5 458.6,316.6 460.6,314.1 463.1,311.7 464.8,310.6 466.6,310.2 468.1,310.6 469.8,311.7 471.8,313.9 473.6,316.6 474.8,319.3 475.8,322.4 477.8,333.1 483.3,357.0 486.1,373.0 488.3,388.2 490.1,402.1 510.6,585.5 512.5,598.4 515.5,613.0 517.0,618.8 517.8,620.5 518.3,621.1 518.5,621.1 519.0,620.7 519.8,619.3 520.8,616.2 522.0,611.3 531.0,570.4 540.0,528.3 545.0,508.2 546.5,504.4 547.5,502.7 548.8,501.2 550.3,499.7 551.5,498.9 552.8,498.4 554.0,498.4 556.0,499.4 558.0,501.2 559.3,503.0 560.3,505.5 564.8,520.9 571.0,547.8 573.5,557.6 578.5,572.5 579.8,575.4 581.0,577.3 581.8,577.8 582.5,577.8 583.3,577.4 584.3,576.3 590.0,567.0 593.5,560.2 595.0,557.7 597.5,554.7 600.3,552.6 601.8,551.9 603.0,551.8 604.3,552.0 605.8,552.7 607.5,554.1 609.3,555.8 610.8,557.7 612.3,560.1 614.0,563.7 615.5,567.8 619.8,581.0 623.8,594.6 633.3,630.7 638.8,653.4 639.8,656.0 641.0,658.3 644.0,663.0 645.8,665.0 646.8,665.6 647.5,665.7 648.3,665.6 649.3,664.9 650.5,663.6 652.3,661.4 654.0,659.0 655.3,656.8 656.3,654.4 657.0,652.0 663.0,628.8 665.3,620.7 666.3,618.6 667.5,616.7 669.0,615.1 670.5,614.0 672.3,613.6 673.3,613.7 674.5,614.2 677.0,615.9 679.5,618.3 684.3,624.8 689.0,630.0 691.3,633.1 696.8,641.8 702.5,653.1 705.0,657.1 707.3,659.7 709.3,661.4 711.3,662.5 713.0,662.6 715.0,661.8 717.3,660.1 719.8,657.5 724.0,652.3 726.3,650.3 731.8,646.6 742.5,640.0 744.5,638.5 746.3,636.8 747.8,634.8 749.3,632.1 757.5,612.3 759.5,608.0 761.3,605.0 763.8,601.7 766.5,599.2 767.8,598.6 768.8,598.3 769.8,598.3 770.8,598.7 772.3,599.7 773.8,601.1 775.3,602.9 776.3,604.6 778.5,610.1 781.3,618.7 782.5,624.0 785.5,640.7 790.0,670.5 791.3,676.2 793.0,682.9 793.8,685.4 794.5,687.1 796.0,688.9 797.0,689.4 797.8,689.5 799.3,689.3 803.0,687.7 804.5,687.6 806.3,687.9 807.5,688.3 808.8,689.0 810.0,690.2 811.0,691.5 812.3,693.5 813.5,696.3 820.5,717.0 824.3,726.7 828.5,735.6 829.8,737.4 831.0,738.5 832.0,738.8 833.0,738.8 834.3,738.2 835.3,737.3 844.3,724.5 847.3,720.9 848.5,720.3 849.5,720.3 850.8,720.7 851.8,721.5 852.8,722.7 854.0,724.8 858.5,734.3 862.0,742.9 868.0,758.9 872.5,769.1 873.8,771.4 875.3,773.3 876.8,774.5 878.5,775.4 880.5,775.8 882.0,775.4 883.5,774.2 885.5,771.8 887.0,769.4 891.3,761.5 902.3,740.6 905.3,736.2 908.5,732.3 910.3,730.5 914.0,727.7 916.0,725.9 921.3,719.5 923.0,716.5 926.0,710.6 928.8,703.4 930.0,700.7 931.5,698.3 933.3,696.3 934.8,695.2 936.0,694.7 937.8,694.5 939.8,694.8 941.0,695.1 942.0,695.6 944.5,698.3 945.3,698.6 946.0,698.5 949.0,697.3 952.0,695.6 958.5,691.2 959.5,689.8 960.5,689.5 963.3,689.8 965.3,690.3 966.5,691.1 969.0,693.2 970.0,693.7 971.5,693.9 973.0,693.5 974.3,692.7 975.3,691.8 977.5,688.7 980.3,683.9 982.0,680.4 983.8,676.3 985.0,674.2 987.0,672.0 987.8,671.6 988.5,671.4 989.5,671.7 990.5,672.3 993.0,675.5 1011.5,706.6 1014.8,711.4 1018.0,715.4 1024.0,721.6 1025.8,723.0 1027.5,723.8 1028.8,724.1 1030.3,723.9 1035.8,721.7 1038.8,721.0 1039.8,721.3 1042.5,723.4 1044.0,725.2 1048.5,733.0 1050.5,737.1 1055.3,747.9 1057.0,751.1 1059.3,754.7 1061.5,757.5 1064.3,760.3 1070.3,764.6 1074.0,768.7 1077.0,770.5 1079.5,771.4 1082.5,772.0 1089.0,772.9 1098.0,773.8 1102.5,774.7 1112.3,777.6 1128.0,780.1 1130.8,780.1 1133.8,779.9 1143.3,777.7 1147.0,777.2 1149.5,777.3 1151.3,777.7 1153.0,778.3 1160.0,782.3 1163.0,783.4 1177.5,786.3 1182.0,786.9 1185.8,787.2 1193.5,787.3 1196.3,786.9 1198.8,785.8 1203.8,782.7 1206.0,781.5 1209.3,780.5 1213.8,779.4 1216.8,778.9 1220.0,778.7 1227.8,779.1" stroke="#2a7f2a"/>
<path d="M186.3,785.7 210.8,786.7 221.6,786.8 229.8,786.6 237.8,786.2 243.1,785.6 250.1,784.4 255.1,783.0 259.1,781.2 262.8,778.8 268.6,773.9 273.6,768.8 276.3,765.3 278.6,761.5 280.3,757.5 282.3,751.6 285.3,740.8 287.3,732.5 296.1,682.2 303.1,652.0 304.8,643.1 306.6,632.7 312.3,592.4 329.3,468.1 332.8,440.3 335.8,414.5 339.6,387.7 346.8,326.3 350.8,299.2 355.3,262.4 358.6,241.9 359.6,237.0 360.6,234.3 362.1,231.5 363.3,229.6 364.1,229.3 364.6,229.4 365.3,230.3 367.3,234.2 368.3,236.9 369.1,240.2 376.3,302.3 378.8,331.5 384.6,383.7 389.3,448.0 391.3,468.5 393.6,488.2 395.3,499.2 397.3,508.6 401.6,525.1 403.3,530.9 404.8,535.1 406.6,539.0 408.1,541.5 409.3,542.7 409.8,542.8 410.3,542.6 411.1,542.0 411.8,540.9 413.3,538.0 414.8,534.2 416.3,529.3 422.3,505.0 425.3,490.9 430.1,466.1 440.8,405.3 442.3,397.7 449.1,370.6 451.8,361.2 455.8,348.6 457.1,345.2 458.6,342.5 460.6,340.1 463.1,337.9 464.8,336.8 466.6,336.4 468.1,336.8 469.8,337.9 471.8,340.0 473.6,342.5 474.8,345.1 475.8,348.0 477.8,358.2 483.3,380.7 485.8,394.4 488.3,410.3 490.1,423.4 498.3,493.9 510.6,596.0 512.5,608.1 515.5,621.7 517.0,627.1 517.8,628.7 518.3,629.2 518.5,629.2 519.0,628.8 519.8,627.4 520.8,624.5 522.0,619.8 531.0,580.7 540.0,539.9 542.3,530.8 545.0,520.8 546.5,517.1 547.5,515.6 548.8,514.1 550.3,512.7 551.5,511.9 552.8,511.4 554.0,511.4 556.0,512.2 558.0,513.8 559.3,515.5 560.3,517.8 564.8,532.0 571.3,558.0 573.5,566.2 578.5,580.6 579.8,583.4 581.0,585.3 581.8,585.9 582.5,586.0 583.3,585.7 584.3,584.8 590.0,576.6 593.5,570.5 595.3,568.0 597.8,565.4 600.5,563.6 602.0,563.2 603.3,563.1 604.5,563.4 606.0,564.2 607.8,565.5 609.5,567.1 611.0,568.9 612.5,571.2 614.0,574.1 615.5,577.8 619.8,589.8 624.3,603.4 633.3,634.6 636.8,647.6 638.8,655.9 639.8,658.3 641.3,661.0 644.3,665.5 646.0,667.4 647.0,667.9 647.8,667.9 648.5,667.7 649.5,667.1 651.0,665.6 653.5,662.6 655.5,659.5 657.0,655.5 663.0,632.8 665.3,624.9 666.3,622.8 667.5,621.0 669.0,619.4 670.5,618.4 672.0,617.9 673.5,618.1 675.3,618.9 677.3,620.2 680.0,622.7 684.5,628.2 689.3,632.6 691.5,635.7 696.5,643.9 699.3,649.3 702.8,657.0 705.0,660.8 707.3,663.6 709.3,665.5 711.3,666.6 713.0,666.8 715.0,666.1 717.0,664.6 719.5,662.0 724.0,656.6 726.5,654.4 732.5,650.4 742.8,644.7 744.8,643.2 746.3,641.8 747.8,640.0 749.3,637.4 757.5,618.6 759.3,615.1 761.0,612.1 763.5,608.9 766.0,606.7 767.3,606.0 768.5,605.7 769.5,605.6 770.5,605.9 771.8,606.6 773.5,608.2 775.0,609.9 776.3,611.8 778.5,617.2 781.3,625.4 782.5,630.5 785.5,646.5 790.0,674.9 791.3,680.3 793.0,686.7 793.8,689.1 794.5,690.6 795.3,691.6 796.0,692.2 797.0,692.6 797.8,692.6 799.3,692.2 802.8,690.5 804.3,690.3 805.8,690.4 807.0,690.8 808.3,691.5 809.5,692.6 810.5,693.8 812.0,696.2 813.5,699.5 820.8,720.6 824.5,730.1 828.3,737.6 829.8,739.6 831.0,740.4 832.0,740.6 833.0,740.4 834.3,739.6 835.3,738.4 844.5,720.8 847.3,716.3 848.3,715.5 849.5,715.0 850.8,715.2 852.0,716.1 853.0,717.3 854.3,719.4 858.5,728.7 862.5,738.9 868.0,754.1 872.3,764.1 873.5,766.5 874.8,768.3 876.0,769.5 877.5,770.4 879.8,770.8 881.5,770.2 883.3,768.6 885.3,765.7 887.3,761.6 901.5,727.9 903.3,724.6 905.3,721.4 907.8,717.9 909.8,715.7 911.0,714.8 916.0,712.0 919.3,709.1 921.0,707.8 922.0,706.8 926.3,700.0 928.8,694.2 930.0,691.7 932.5,688.1 935.0,685.7 937.8,684.3 941.5,682.9 942.5,682.9 944.3,683.5 945.5,682.8 947.8,680.3 951.5,675.3 958.5,665.5 959.5,663.0 960.3,662.3 963.3,661.7 965.3,661.9 966.5,662.7 969.5,665.8 971.0,666.6 972.0,666.7 973.0,666.5 974.0,666.1 975.0,665.4 976.8,663.1 979.5,658.1 981.8,653.2 983.5,648.2 984.8,645.5 985.8,644.0 987.0,642.6 987.8,642.0 988.8,641.7 989.5,641.9 990.5,642.5 991.8,643.9 993.0,645.6 998.0,654.1 1004.0,664.8 1010.0,674.7 1013.0,679.3 1016.8,684.1 1023.3,691.1 1025.8,693.2 1028.0,694.0 1029.3,694.1 1030.3,693.9 1034.5,692.2 1037.5,691.6 1039.3,691.9 1040.8,693.7 1042.5,696.2 1043.8,698.6 1049.5,714.3 1055.0,730.7 1057.3,736.4 1059.5,741.3 1061.8,745.0 1064.3,748.4 1070.3,753.9 1071.5,755.6 1073.3,758.7 1074.3,760.0 1076.3,761.7 1078.3,763.0 1081.5,764.4 1087.5,766.3 1096.5,768.5 1108.3,772.3 1112.0,773.3 1122.3,774.5 1129.0,775.7 1133.5,776.1 1135.8,776.2 1142.0,775.8 1146.0,776.0 1148.3,776.3 1150.5,777.0 1152.5,777.8 1159.5,781.9 1162.8,783.3 1173.3,785.5 1181.3,786.8 1184.5,787.0 1187.8,786.9 1193.8,786.4 1195.8,786.0 1198.5,784.8 1203.8,781.4 1206.0,780.2 1210.0,778.9 1214.0,777.9 1217.0,777.5 1220.0,777.5 1227.8,778.4" stroke="#2828c8"/>
<path d="M186.3,1560.3 195.3,1559.1 201.1,1558.6 235.8,1557.4 243.8,1556.8 249.6,1556.0 261.1,1553.0 266.6,1552.0 269.1,1552.0 274.8,1553.0 280.1,1553.4 283.3,1553.3 286.1,1552.7 289.3,1551.5 297.8,1547.5 300.1,1546.4 302.1,1545.0 304.3,1542.9 309.8,1536.9 330.3,1517.0 332.8,1514.8 335.3,1513.4 339.1,1512.1 342.6,1511.2 345.6,1511.0 348.6,1511.2 351.6,1511.8 354.1,1512.8 356.3,1514.1 359.8,1516.9 363.6,1520.3 368.3,1525.2 379.1,1536.7 382.8,1540.3 386.3,1543.3 390.3,1546.2 394.1,1548.4 398.6,1550.4 404.3,1552.5 411.1,1554.6 415.8,1555.9 420.1,1556.6 425.6,1557.2 436.1,1558.0 471.1,1559.5 484.3,1561.3 488.3,1561.6 492.8,1561.6 496.8,1561.0 500.8,1559.6 502.6,1558.6 504.1,1557.4 506.3,1555.1 512.3,1548.1 526.3,1535.1 528.8,1532.6 530.5,1530.3 532.3,1527.3 536.8,1517.5 538.5,1514.2 540.0,1511.8 541.8,1509.7 543.3,1508.4 544.8,1507.6 546.5,1507.1 551.8,1506.1 553.3,1505.5 554.8,1504.5 557.8,1501.5 562.0,1496.8 569.5,1486.6 571.3,1485.0 572.8,1484.1 574.0,1484.0 575.3,1484.6 576.5,1485.9 577.8,1487.7 579.5,1491.1 583.5,1500.0 587.3,1507.0 592.3,1517.2 594.5,1521.3 596.5,1524.3 599.8,1527.8 601.5,1529.1 603.3,1530.1 604.8,1530.7 606.0,1530.9 607.3,1530.7 608.5,1530.1 611.0,1528.0 613.8,1524.6 616.3,1520.5 618.8,1515.3 621.0,1508.8 624.3,1494.8 626.0,1488.8 631.0,1475.7 632.8,1472.2 634.3,1470.0 635.8,1468.7 637.3,1468.1 638.8,1468.3 640.3,1469.1 643.5,1472.0 654.5,1484.1 656.3,1485.3 657.0,1485.4 657.5,1485.2 658.5,1484.2 659.5,1482.1 663.0,1470.4 664.0,1467.9 665.3,1465.6 666.3,1464.4 667.5,1463.4 675.8,1460.0 679.3,1457.9 681.5,1456.1 683.0,1454.0 684.3,1451.4 688.3,1440.7 689.0,1439.4 689.8,1438.9 690.3,1439.1 691.0,1440.4 693.5,1446.8 696.0,1454.6 699.0,1465.2 700.8,1473.2 703.3,1489.0 704.3,1493.5 705.3,1496.9 707.0,1501.7 709.0,1506.1 711.0,1509.4 713.0,1511.7 713.8,1512.1 714.5,1512.3 715.0,1512.2 715.8,1511.7 717.3,1509.9 720.5,1504.6 722.3,1502.5 727.3,1498.5 729.3,1497.3 731.3,1496.5 733.3,1496.2 735.3,1496.5 737.3,1497.1 742.3,1499.2 745.3,1499.8 748.3,1499.6 755.0,1498.2 756.8,1498.0 758.5,1498.2 761.8,1499.1 765.5,1500.8 769.5,1503.1 774.3,1506.5 776.5,1508.4 778.8,1510.6 789.3,1522.2 791.5,1524.1 792.3,1524.5 793.0,1524.7 793.8,1524.5 794.5,1524.0 796.0,1522.1 797.5,1519.5 801.0,1512.5 802.5,1510.0 804.0,1508.5 804.8,1508.3 805.3,1508.4 806.0,1508.9 807.0,1510.2 809.3,1514.7 810.5,1518.1 814.0,1529.7 822.3,1549.9 824.0,1553.2 825.5,1555.1 826.5,1555.7 827.0,1555.6 827.8,1555.2 828.8,1554.0 829.8,1552.2 831.8,1547.3 833.8,1540.2 835.0,1533.7 837.0,1513.5 847.0,1404.8 847.8,1399.4 849.3,1391.9 850.8,1386.4 852.0,1383.3 852.5,1382.5 853.0,1382.1 853.5,1382.2 854.0,1382.8 855.5,1386.6 857.0,1391.5 863.3,1417.2 868.3,1440.8 872.3,1456.7 874.0,1462.3 874.8,1463.9 875.3,1464.5 875.8,1464.7 876.5,1464.1 877.3,1462.8 878.0,1460.9 880.0,1453.7 881.8,1445.5 883.5,1435.7 884.8,1427.0 886.0,1416.3 889.3,1379.2 901.8,1242.9 903.0,1233.8 904.8,1224.0 906.5,1216.4 908.3,1211.0 909.0,1209.5 909.5,1208.8 910.0,1208.8 910.8,1209.6 911.5,1211.2 912.5,1214.1 914.5,1221.6 917.8,1235.5 918.8,1240.8 919.8,1248.1 921.3,1261.8 922.5,1270.1 926.5,1287.4 928.5,1294.6 929.8,1297.2 930.3,1297.6 931.0,1297.2 931.8,1295.9 932.5,1294.1 934.3,1287.7 936.3,1277.4 937.8,1266.3 939.8,1247.1 941.5,1226.0 954.5,1019.4 958.5,962.0 959.5,940.1 960.3,932.5 961.0,927.9 963.8,914.2 964.8,910.8 965.3,909.9 965.5,909.7 965.8,909.8 966.3,910.7 967.0,913.3 970.0,930.6 971.8,937.6 973.0,941.6 974.3,944.6 974.8,945.4 975.3,945.8 975.8,945.6 976.0,945.1 977.3,941.2 978.5,935.3 981.5,916.0 982.3,908.9 983.8,889.2 985.0,880.1 987.0,870.8 988.3,866.1 989.3,863.5 989.8,862.9 990.3,862.7 990.8,862.9 991.5,863.9 993.3,867.6 998.3,881.4 1002.5,895.2 1003.8,898.3 1005.3,900.8 1007.5,903.2 1010.5,905.5 1012.3,906.5 1016.3,908.1 1018.0,909.3 1019.8,911.3 1023.3,916.5 1024.3,917.6 1025.0,918.2 1026.0,918.3 1027.0,918.0 1028.3,917.0 1032.0,913.5 1033.0,913.0 1034.0,913.2 1035.3,914.9 1037.0,918.9 1038.3,923.0 1039.0,926.6 1040.0,936.0 1043.3,980.7 1047.8,1075.8 1053.5,1177.3 1058.8,1253.0 1060.3,1270.5 1062.0,1287.4 1064.5,1307.2 1065.8,1313.3 1069.0,1326.8 1070.3,1333.5 1071.3,1341.2 1073.0,1360.3 1074.0,1369.0 1075.3,1376.6 1077.5,1388.1 1079.8,1397.9 1082.0,1406.1 1098.8,1459.8 1100.5,1463.9 1102.8,1467.5 1105.3,1470.1 1106.5,1470.9 1107.8,1471.5 1108.8,1471.7 1110.0,1471.7 1112.5,1470.8 1116.8,1468.7 1121.0,1465.5 1122.5,1465.0 1123.8,1465.1 1125.3,1466.1 1127.0,1467.8 1128.5,1469.9 1130.8,1474.2 1132.8,1479.9 1147.3,1533.0 1150.0,1542.2 1152.3,1547.2 1155.0,1551.5 1158.5,1555.6 1161.8,1558.1 1164.3,1559.5 1167.0,1560.6 1175.0,1562.6 1177.3,1562.9 1179.3,1562.8 1181.0,1562.5 1182.5,1561.8 1184.8,1560.0 1187.0,1557.4 1188.8,1554.8 1193.3,1547.1 1194.8,1544.9 1196.8,1542.6 1202.3,1536.8 1207.0,1532.2 1211.3,1528.7 1212.5,1527.9 1213.5,1527.5 1215.0,1527.4 1216.3,1527.7 1217.8,1528.6 1219.3,1529.8 1221.0,1531.7 1222.8,1534.0 1227.3,1541.0 1227.8,1541.0" stroke="#e628e6"/>
<path d="M186.3,1562.7 207.1,1564.2 219.1,1564.5 226.3,1564.5 236.6,1564.0 241.6,1563.5 248.8,1562.1 253.1,1560.7 254.8,1559.8 256.6,1558.5 261.3,1553.8 266.8,1547.8 270.8,1542.4 273.6,1537.7 275.8,1532.7 277.3,1528.3 279.3,1520.9 282.3,1507.3 284.3,1496.8 293.1,1434.0 300.3,1395.0 301.8,1385.6 303.6,1372.7 309.3,1322.9 326.3,1168.6 333.6,1098.7 336.3,1062.8 338.8,1036.8 340.8,1018.3 351.6,926.2 355.8,892.6 359.1,872.8 360.8,866.2 361.6,864.8 362.3,864.4 363.3,864.9 364.3,866.2 365.3,868.0 366.3,870.3 368.6,878.1 369.6,883.9 376.6,959.0 378.8,992.6 384.3,1054.3 389.3,1138.3 390.8,1158.0 393.1,1183.8 394.8,1198.9 396.8,1211.5 401.3,1233.6 403.1,1241.0 404.6,1246.4 406.1,1250.8 407.6,1254.3 409.1,1256.4 409.6,1256.7 410.1,1256.6 410.6,1256.2 411.3,1255.1 413.1,1251.2 414.8,1245.6 416.3,1239.4 422.3,1208.4 425.3,1190.5 430.1,1159.1 440.8,1082.1 442.3,1072.5 449.1,1038.2 451.8,1026.3 456.1,1009.3 457.3,1005.2 458.8,1002.1 460.8,999.2 463.3,996.4 465.1,995.2 465.8,994.9 466.8,994.9 468.3,995.4 470.1,997.0 471.8,999.3 473.6,1002.4 474.8,1005.6 475.8,1009.2 477.8,1022.1 483.6,1052.0 486.3,1071.5 488.3,1087.8 490.1,1104.3 510.6,1324.7 512.5,1340.4 515.5,1358.1 517.0,1365.2 517.8,1367.3 518.3,1368.0 518.5,1368.1 519.0,1367.7 519.8,1366.0 521.8,1357.9 540.0,1260.5 545.0,1237.1 546.5,1232.5 547.5,1230.6 548.8,1228.8 550.3,1227.1 551.5,1226.1 552.5,1225.6 553.8,1225.6 555.5,1226.6 557.5,1228.7 559.0,1231.1 560.0,1233.9 562.8,1244.9 564.8,1253.8 570.8,1285.6 573.5,1298.7 575.0,1304.4 578.3,1315.2 579.5,1318.5 580.8,1320.7 581.5,1321.4 582.3,1321.4 583.3,1320.6 584.3,1319.1 590.0,1306.8 593.5,1297.9 595.0,1294.6 597.5,1290.6 598.8,1289.1 600.3,1287.8 601.8,1286.9 603.0,1286.6 604.3,1286.8 605.8,1287.7 607.3,1289.0 609.0,1291.1 610.5,1293.4 612.0,1296.4 613.5,1300.1 615.0,1304.8 620.5,1326.7 624.8,1346.2 636.8,1404.4 638.8,1414.9 639.5,1417.3 640.8,1420.1 643.8,1425.4 645.5,1427.8 646.5,1428.5 647.3,1428.7 648.3,1428.4 649.3,1427.5 651.8,1423.8 654.0,1419.8 655.3,1417.2 656.8,1412.4 665.3,1376.0 666.0,1374.1 667.3,1371.9 668.8,1370.0 670.3,1368.6 671.3,1368.1 672.0,1368.0 673.8,1368.5 676.0,1370.0 678.3,1372.4 680.8,1376.0 685.5,1384.6 696.5,1401.9 701.0,1410.2 703.5,1414.2 706.0,1417.3 708.5,1419.7 710.8,1420.9 711.8,1421.1 712.8,1421.1 714.0,1420.6 715.3,1419.8 718.3,1417.2 720.3,1415.0 724.0,1409.9 725.8,1408.1 741.5,1396.2 744.0,1394.0 746.0,1391.8 747.8,1389.2 749.3,1386.0 757.8,1361.8 759.8,1356.7 761.5,1353.1 764.0,1349.2 765.5,1347.4 766.8,1346.3 768.0,1345.5 769.0,1345.2 770.0,1345.2 771.0,1345.6 772.5,1346.8 774.0,1348.5 775.5,1350.6 776.5,1352.6 779.3,1361.0 781.5,1369.5 782.8,1376.1 785.8,1395.9 790.0,1429.2 791.3,1435.9 793.3,1444.9 794.5,1449.0 795.3,1450.3 796.3,1451.5 797.3,1452.2 798.0,1452.4 799.3,1452.4 802.0,1451.5 803.5,1451.2 805.8,1451.4 807.8,1451.9 809.8,1453.1 811.8,1455.6 812.8,1457.4 813.8,1460.0 820.0,1480.6 823.8,1491.6 828.5,1503.5 829.8,1505.9 831.0,1507.5 832.5,1508.4 833.5,1508.5 834.5,1508.3 836.0,1507.7 843.8,1503.8 845.5,1503.1 847.0,1502.8 848.3,1502.8 849.3,1503.1 850.5,1504.1 851.5,1505.2 853.8,1509.1 859.0,1520.5 861.5,1526.7 868.0,1544.0 872.8,1554.7 874.0,1556.8 875.8,1558.9 878.5,1561.5 880.5,1562.9 882.0,1563.3 883.5,1562.8 886.0,1561.1 889.0,1558.5 892.8,1554.6 909.5,1536.6 912.3,1533.5 914.3,1530.9 917.5,1525.4 920.5,1518.6 926.0,1503.4 928.8,1493.8 930.3,1489.7 931.3,1487.9 932.5,1486.3 934.0,1485.3 935.3,1485.0 936.3,1485.3 937.5,1486.2 939.0,1487.8 940.5,1489.9 942.0,1492.9 944.3,1499.9 945.3,1502.2 947.0,1504.9 950.0,1508.6 953.3,1512.0 956.8,1515.0 965.5,1521.2 968.0,1522.5 969.5,1522.8 970.8,1522.6 972.3,1521.8 973.8,1520.5 976.5,1517.1 983.0,1507.4 984.8,1505.3 986.0,1504.1 987.0,1503.5 988.0,1503.3 989.0,1503.6 990.0,1504.3 991.5,1505.9 993.0,1508.0 999.0,1518.0 1004.8,1527.9 1012.5,1542.7 1015.8,1547.9 1018.8,1551.9 1023.8,1557.3 1026.3,1559.4 1028.5,1560.5 1030.0,1560.6 1031.8,1560.1 1033.8,1559.0 1038.8,1556.0 1043.8,1553.3 1046.5,1552.2 1048.3,1551.9 1049.5,1552.2 1050.8,1553.0 1055.3,1557.0 1057.5,1558.4 1071.5,1563.0 1074.0,1563.6 1077.0,1563.8 1080.8,1563.5 1089.0,1562.0 1096.8,1560.0 1100.5,1559.6 1104.5,1560.3 1112.5,1562.9 1121.5,1565.2 1125.0,1565.9 1127.8,1566.0 1130.5,1565.6 1133.0,1564.6 1135.8,1563.0 1141.3,1558.9 1145.5,1556.3 1148.3,1555.0 1150.5,1554.6 1152.0,1554.8 1153.8,1555.4 1160.3,1559.0 1163.3,1560.1 1189.5,1565.3 1193.3,1566.0 1195.0,1566.1 1196.5,1565.9 1198.3,1565.3 1204.5,1561.3 1207.5,1560.1 1213.3,1558.8 1218.5,1557.8 1223.5,1557.2 1227.8,1556.9" stroke="#1e1e1e"/>
<path d="M186.3,1562.0 198.3,1562.8 210.6,1563.0 220.8,1562.4 223.3,1561.9 225.6,1561.2 227.3,1560.3 228.8,1559.2 230.6,1557.7 232.1,1556.0 235.8,1550.7 239.6,1543.8 241.3,1541.0 243.6,1538.3 246.1,1536.2 250.1,1533.8 251.6,1533.3 252.8,1533.1 254.8,1533.6 259.8,1536.3 261.3,1536.4 262.6,1536.1 274.1,1529.1 276.1,1527.6 277.3,1526.4 278.3,1524.9 279.1,1523.4 279.8,1521.1 281.1,1513.4 284.6,1495.3 293.3,1432.4 296.6,1415.8 300.1,1396.5 301.8,1385.6 303.6,1372.7 309.3,1322.9 326.3,1168.6 333.6,1098.7 336.3,1062.8 338.8,1036.8 340.8,1018.3 351.6,926.2 355.8,892.6 359.1,872.8 360.8,866.2 361.6,864.8 362.3,864.3 363.1,864.4 363.8,864.9 365.6,867.1 366.8,869.6 368.3,874.2 370.6,885.0 372.3,899.4 375.1,927.0 376.1,945.4 381.6,1017.2 387.1,1104.9 391.8,1163.4 395.6,1200.5 397.3,1214.6 400.1,1230.5 401.6,1237.3 403.1,1242.8 404.6,1247.1 406.1,1250.4 407.3,1252.0 407.8,1252.3 408.6,1252.1 409.3,1251.5 410.1,1250.4 412.1,1246.4 414.1,1241.1 415.8,1235.0 418.3,1224.0 420.6,1211.2 423.1,1193.5 429.3,1145.5 432.8,1121.0 440.1,1074.7 443.6,1056.4 451.3,1021.5 452.3,1017.9 453.3,1015.1 454.6,1012.5 456.1,1009.9 458.8,1005.6 460.6,1003.5 461.8,1002.7 462.8,1002.7 463.8,1003.2 465.1,1004.4 467.1,1007.2 471.1,1013.8 472.6,1016.9 473.8,1020.5 475.1,1026.0 476.6,1037.9 477.3,1042.2 478.6,1046.7 482.3,1057.3 483.8,1062.2 484.8,1067.0 486.3,1076.8 487.8,1088.7 489.3,1103.2 508.8,1312.8 514.5,1360.7 516.5,1373.2 517.3,1376.8 517.8,1378.0 518.0,1378.1 518.5,1377.8 519.8,1375.9 521.0,1373.1 522.0,1369.5 537.3,1273.3 539.8,1259.1 542.3,1247.1 544.3,1239.1 546.3,1234.1 548.0,1231.0 549.5,1228.9 550.8,1227.7 551.5,1227.4 552.0,1227.4 552.8,1227.7 553.8,1228.9 555.8,1232.6 558.0,1238.5 560.0,1245.2 562.5,1256.6 567.3,1284.5 569.0,1292.5 570.8,1299.1 572.5,1304.4 574.3,1308.6 576.3,1312.1 578.3,1314.7 579.3,1315.6 580.0,1315.9 580.8,1316.0 581.3,1315.8 582.8,1314.2 584.5,1311.5 587.0,1306.6 590.5,1298.7 594.0,1287.7 595.3,1284.5 597.8,1279.9 600.0,1276.8 601.0,1276.0 601.8,1275.6 602.5,1275.6 603.3,1276.1 605.5,1278.8 608.3,1283.6 612.5,1293.4 618.0,1308.3 622.3,1322.0 626.3,1336.6 628.0,1344.0 629.3,1350.2 630.5,1358.3 633.3,1379.1 635.3,1390.5 636.8,1396.9 638.5,1401.9 642.3,1409.7 644.0,1412.8 644.8,1413.7 645.5,1414.2 646.3,1414.3 647.3,1413.9 648.3,1412.9 649.3,1411.5 651.3,1407.8 655.8,1398.3 656.8,1395.6 657.8,1391.8 659.8,1379.2 661.0,1374.5 666.5,1361.7 668.3,1358.6 669.8,1357.0 670.5,1356.8 671.3,1357.2 672.8,1359.3 674.3,1362.6 678.0,1372.3 680.0,1376.0 683.3,1379.5 692.8,1387.3 696.0,1390.5 697.5,1392.6 698.8,1394.9 703.5,1406.3 705.3,1409.8 706.3,1411.2 707.5,1412.3 708.8,1412.9 710.0,1412.8 711.8,1412.0 714.3,1410.1 728.8,1397.2 730.8,1395.9 735.5,1393.3 737.8,1391.7 741.0,1388.8 743.8,1385.6 746.0,1382.2 748.3,1377.7 750.3,1372.7 755.3,1358.9 762.3,1342.4 764.3,1338.1 766.0,1335.1 767.5,1333.4 768.8,1333.0 769.5,1333.2 770.3,1333.8 772.0,1336.5 774.0,1341.6 776.0,1348.5 778.5,1358.9 780.5,1369.2 783.5,1391.9 785.3,1402.4 788.8,1418.9 790.3,1424.6 791.5,1428.0 792.5,1429.8 793.5,1431.2 794.8,1432.5 796.3,1433.5 797.3,1433.9 798.3,1434.0 803.8,1432.7 805.0,1432.6 806.3,1432.7 807.5,1433.3 808.5,1434.1 811.0,1437.4 812.5,1440.4 813.8,1444.2 816.0,1456.3 823.3,1483.7 825.3,1489.9 827.5,1495.0 829.8,1498.9 832.3,1502.3 834.3,1504.1 836.5,1505.4 838.8,1506.3 840.3,1506.4 842.0,1505.9 845.3,1504.4 846.8,1504.1 848.0,1504.6 849.0,1505.8 851.3,1509.5 853.8,1514.8 871.3,1557.0 873.5,1561.3 874.3,1562.4 875.0,1563.0 875.8,1563.1 876.5,1562.5 877.3,1561.4 878.3,1559.2 882.8,1545.2 885.5,1537.6 888.5,1526.6 890.0,1521.9 894.8,1510.0 901.8,1494.1 904.5,1488.9 907.0,1485.1 909.3,1482.3 918.8,1471.7 920.0,1470.0 921.0,1468.1 922.8,1462.8 931.8,1431.1 932.8,1428.2 933.5,1427.3 934.5,1426.6 935.5,1426.3 936.5,1426.3 937.5,1427.1 939.5,1430.2 940.3,1430.7 941.5,1431.0 942.5,1430.9 943.5,1430.5 944.3,1429.9 945.0,1428.8 947.3,1423.6 949.3,1417.5 954.8,1395.8 957.0,1387.8 959.5,1380.4 962.5,1372.9 968.0,1361.1 970.3,1356.9 972.8,1352.8 975.3,1349.3 977.3,1347.1 979.3,1345.5 980.8,1345.1 981.8,1345.4 983.0,1346.5 984.3,1348.3 985.8,1351.0 988.3,1357.2 990.5,1365.3 992.0,1373.2 993.3,1381.7 997.0,1416.8 998.3,1426.1 999.5,1433.4 1002.8,1449.2 1005.8,1461.7 1009.3,1474.2 1012.8,1484.4 1016.8,1493.0 1023.3,1504.5 1026.8,1509.7 1030.8,1514.5 1033.8,1517.7 1035.5,1519.0 1037.8,1519.8 1042.5,1520.1 1044.3,1520.4 1046.0,1521.4 1047.5,1523.1 1048.8,1525.1 1050.0,1527.9 1053.5,1539.5 1055.5,1544.1 1057.3,1546.7 1063.0,1553.9 1065.3,1556.6 1067.3,1558.5 1069.3,1559.9 1071.0,1560.5 1072.5,1560.5 1074.3,1559.7 1077.0,1557.2 1083.5,1549.4 1091.0,1542.4 1093.0,1540.7 1095.0,1539.4 1096.8,1538.6 1098.3,1538.3 1100.3,1538.7 1102.8,1540.3 1105.0,1542.5 1110.0,1548.1 1119.0,1557.1 1121.8,1559.2 1123.0,1559.8 1124.3,1560.1 1126.8,1559.9 1129.8,1558.9 1132.5,1557.4 1139.0,1553.5 1151.5,1546.5 1154.8,1545.2 1158.3,1544.7 1162.3,1544.8 1166.5,1545.3 1170.0,1546.2 1173.0,1547.5 1175.0,1548.7 1177.0,1550.2 1183.3,1556.3 1187.0,1559.3 1191.8,1562.3 1193.8,1563.1 1195.3,1563.4 1197.5,1563.4 1199.8,1562.7 1202.3,1561.4 1208.5,1557.4 1210.3,1556.6 1212.0,1556.0 1215.8,1555.3 1220.3,1554.8 1223.8,1554.6 1227.8,1554.7" stroke="#d8242c"/>
<path d="M186.3,1562.7 206.1,1564.2 216.3,1564.5 224.3,1564.5 235.6,1564.0 240.6,1563.6 246.8,1562.6 250.8,1561.4 252.8,1560.2 254.8,1558.4 257.6,1555.2 264.1,1548.1 268.6,1542.0 271.3,1537.2 273.3,1532.7 274.8,1528.3 276.8,1520.9 279.8,1507.3 281.8,1496.8 290.6,1434.0 297.6,1396.5 299.3,1385.6 300.8,1374.7 306.6,1325.1 323.8,1168.7 338.1,1023.2 349.3,926.7 352.6,901.4 355.6,881.0 357.1,875.1 358.8,870.0 360.8,865.6 361.6,864.6 362.1,864.4 362.8,864.7 363.8,866.0 364.6,867.6 365.6,870.7 367.1,877.7 367.8,884.7 370.6,924.6 376.1,1031.1 378.3,1062.8 381.3,1100.2 387.8,1205.8 389.3,1222.6 392.1,1248.9 396.3,1280.9 397.3,1286.0 398.3,1289.2 399.3,1291.6 400.6,1293.9 401.8,1295.7 403.1,1297.1 404.1,1297.8 405.1,1298.0 406.1,1297.5 407.1,1296.5 408.3,1294.6 409.6,1292.3 410.6,1289.9 411.8,1285.9 415.1,1273.5 416.6,1265.2 423.1,1216.9 426.6,1193.7 435.8,1118.2 439.8,1092.3 443.6,1070.3 445.1,1062.5 447.1,1053.8 448.6,1048.1 449.8,1044.6 451.6,1040.8 453.3,1038.1 453.8,1037.7 454.6,1037.7 455.3,1038.1 456.1,1038.8 457.1,1040.2 457.8,1041.7 459.1,1045.9 460.8,1054.0 462.3,1063.8 467.1,1112.3 468.8,1128.3 478.3,1204.0 488.3,1290.4 493.8,1330.2 495.3,1339.8 498.8,1358.0 502.1,1382.1 504.6,1396.2 508.6,1415.7 510.6,1421.9 511.6,1424.1 512.3,1425.2 513.0,1425.5 513.8,1425.0 514.5,1423.8 515.5,1421.6 517.3,1416.2 519.0,1408.5 531.0,1337.9 536.8,1298.0 538.5,1287.5 540.0,1279.8 541.8,1274.0 544.3,1268.2 545.8,1265.6 547.0,1263.9 548.3,1262.7 549.3,1262.1 550.0,1262.1 550.8,1262.5 552.3,1264.3 554.0,1267.6 556.3,1272.8 557.5,1276.6 558.5,1280.7 561.5,1298.2 564.3,1308.5 566.3,1315.2 568.8,1322.0 572.3,1329.6 575.0,1334.4 576.3,1336.1 577.3,1337.0 578.3,1337.4 579.0,1337.2 580.0,1336.2 581.3,1334.4 583.3,1330.9 588.8,1320.1 596.3,1307.0 599.0,1302.7 600.8,1300.7 601.8,1300.0 602.8,1300.2 604.0,1301.6 605.3,1304.0 609.0,1312.2 611.3,1318.1 614.8,1329.4 625.5,1361.7 631.0,1381.5 633.8,1389.9 638.5,1401.9 641.3,1408.0 643.8,1412.1 644.8,1413.2 645.8,1413.8 646.8,1413.8 647.5,1413.4 649.3,1411.0 651.0,1407.3 655.8,1396.1 657.3,1391.1 659.3,1378.3 660.5,1373.5 666.3,1359.3 667.5,1357.2 668.3,1356.6 668.8,1356.6 669.3,1356.9 670.0,1357.7 672.0,1361.0 689.0,1392.6 694.0,1401.2 701.5,1413.3 705.0,1418.5 708.0,1422.0 710.3,1423.8 711.0,1423.9 711.8,1423.7 712.8,1422.6 713.8,1420.9 717.0,1413.5 718.5,1410.7 720.5,1408.2 723.5,1405.1 726.8,1402.4 729.0,1401.1 730.8,1400.7 735.5,1400.6 737.8,1399.7 742.0,1396.4 743.8,1394.6 745.3,1392.7 746.5,1390.7 747.8,1387.9 755.3,1369.9 765.5,1346.2 768.5,1340.4 769.3,1339.7 769.8,1339.5 770.3,1339.6 771.3,1340.4 772.3,1342.0 774.5,1347.4 777.3,1356.4 780.0,1367.3 781.5,1376.2 784.0,1396.9 786.3,1411.8 788.5,1425.7 790.3,1434.4 791.0,1436.0 792.5,1437.8 794.8,1439.6 796.8,1440.7 797.5,1440.8 798.5,1440.5 801.8,1438.2 802.5,1438.1 803.3,1438.4 804.5,1439.6 806.3,1442.0 809.3,1447.5 813.5,1457.6 816.3,1465.7 818.3,1473.9 821.8,1492.9 823.5,1500.7 827.3,1513.1 829.3,1518.5 831.3,1523.1 833.3,1526.8 834.0,1527.4 834.8,1527.2 836.3,1525.0 840.3,1516.6 842.0,1514.0 845.0,1510.9 847.3,1509.2 848.3,1508.8 849.0,1508.7 849.8,1508.9 850.3,1509.3 851.5,1510.9 853.3,1513.8 856.5,1520.6 871.5,1558.0 872.8,1560.4 873.8,1561.9 874.5,1562.6 875.3,1562.7 875.8,1562.3 876.5,1561.1 877.8,1557.4 880.8,1544.3 882.3,1536.6 883.8,1526.6 892.0,1460.8 896.0,1432.2 898.0,1420.0 900.8,1405.0 902.0,1399.8 903.8,1394.7 905.0,1392.1 906.3,1390.5 906.8,1390.3 907.3,1390.4 908.5,1391.6 909.8,1393.6 911.3,1396.7 915.8,1408.0 919.8,1416.5 921.8,1420.1 923.5,1422.8 924.5,1423.8 925.5,1424.3 927.3,1424.1 929.3,1423.1 931.0,1421.5 933.5,1418.6 935.5,1415.7 938.3,1410.8 940.0,1407.2 941.0,1404.4 941.8,1401.0 943.3,1391.8 945.8,1373.9 947.3,1360.9 952.3,1311.9 954.5,1291.5 958.0,1264.1 962.3,1234.8 964.0,1227.3 967.0,1217.9 968.5,1214.5 972.3,1207.7 973.5,1204.7 974.8,1200.0 977.0,1188.5 980.0,1177.7 981.8,1172.6 982.5,1171.5 983.0,1171.4 983.8,1172.3 984.5,1174.3 986.3,1181.6 988.5,1193.5 990.0,1205.3 1000.3,1339.7 1005.0,1384.6 1006.0,1391.5 1007.0,1396.6 1008.8,1403.0 1010.5,1406.9 1015.5,1414.8 1021.3,1422.3 1022.5,1424.5 1023.5,1427.0 1028.0,1439.9 1041.8,1482.0 1055.3,1522.3 1062.8,1547.4 1065.0,1553.5 1067.3,1558.0 1068.8,1559.9 1069.5,1560.5 1070.3,1560.7 1071.0,1560.6 1071.8,1560.3 1073.8,1558.3 1076.5,1554.2 1082.8,1543.2 1084.0,1540.4 1086.8,1533.3 1089.0,1529.0 1092.8,1524.1 1095.3,1521.2 1097.3,1519.5 1099.0,1518.9 1100.8,1519.3 1102.8,1520.8 1105.3,1523.6 1109.3,1528.8 1111.8,1533.4 1114.8,1541.0 1116.0,1543.8 1118.8,1548.5 1121.8,1552.8 1124.3,1555.8 1126.5,1558.0 1128.8,1559.5 1131.0,1560.4 1133.3,1560.6 1135.3,1559.9 1137.8,1558.1 1140.8,1555.2 1143.0,1552.6 1144.5,1550.5 1148.5,1542.5 1149.8,1540.3 1151.3,1538.3 1153.0,1536.7 1155.5,1535.0 1158.5,1533.5 1165.5,1530.7 1168.0,1530.1 1169.5,1530.2 1171.0,1530.8 1172.8,1532.2 1174.3,1533.8 1176.8,1537.5 1178.8,1541.1 1179.8,1543.7 1181.8,1550.0 1182.8,1552.2 1183.8,1554.0 1185.8,1556.5 1188.5,1559.3 1190.8,1561.0 1192.8,1562.0 1194.8,1562.3 1196.5,1561.8 1198.3,1560.6 1202.0,1557.1 1204.0,1555.5 1206.5,1554.3 1210.3,1553.0 1213.8,1552.3 1218.3,1552.0 1222.3,1552.0 1227.8,1552.4" stroke="#2a7f2a"/>
<path d="M186.3,1562.7 205.8,1564.1 215.8,1564.5 224.1,1564.5 235.6,1564.0 240.6,1563.6 246.6,1562.7 250.3,1561.5 252.1,1560.5 253.8,1558.9 256.8,1555.1 263.6,1547.7 268.1,1541.5 270.6,1537.1 272.6,1532.6 274.1,1528.2 276.1,1520.7 279.1,1507.0 281.1,1496.5 289.8,1433.7 293.3,1415.5 297.3,1393.3 299.1,1381.8 300.8,1368.3 306.1,1322.5 323.3,1165.8 326.3,1136.0 329.6,1100.7 337.3,1022.8 350.3,912.3 354.1,885.1 355.1,879.9 356.8,873.7 358.6,868.2 359.3,866.7 360.3,865.3 361.1,864.6 361.8,864.4 362.6,864.8 363.6,865.9 365.3,869.2 366.3,872.3 367.1,877.0 370.3,925.4 375.6,1029.8 378.1,1064.8 380.8,1098.7 387.3,1204.5 388.8,1222.3 392.3,1257.4 395.8,1286.6 396.6,1291.5 397.6,1296.1 399.1,1300.8 401.6,1306.6 403.3,1309.6 404.1,1310.4 404.8,1310.7 405.6,1310.6 406.3,1309.9 408.1,1306.9 409.8,1302.8 411.3,1297.5 414.8,1281.7 416.1,1274.8 423.1,1218.6 426.8,1193.9 435.3,1123.4 436.8,1113.1 439.8,1094.6 441.8,1083.8 444.1,1073.0 448.8,1055.6 450.6,1050.6 451.6,1048.5 452.1,1048.1 452.8,1048.1 454.3,1049.4 455.3,1050.8 456.1,1052.4 458.1,1059.3 460.3,1069.4 461.8,1078.5 478.1,1206.7 487.8,1290.7 494.8,1342.0 498.8,1363.8 502.6,1392.3 507.1,1418.1 508.3,1423.9 509.6,1428.1 511.3,1432.9 512.0,1434.3 512.5,1434.8 513.0,1434.9 513.8,1434.4 514.5,1433.2 515.5,1430.9 516.8,1426.7 518.3,1419.6 540.3,1287.4 541.8,1282.2 543.8,1277.5 546.0,1273.7 547.0,1272.5 547.8,1272.0 548.3,1271.9 549.0,1272.2 550.8,1274.1 552.8,1277.4 554.5,1281.5 556.5,1288.6 558.8,1299.9 560.0,1305.2 563.8,1317.4 566.3,1324.2 568.5,1329.1 571.8,1334.8 574.0,1338.1 576.0,1340.1 577.3,1340.6 578.5,1340.2 580.0,1338.8 582.3,1336.1 590.5,1324.2 597.5,1312.2 599.0,1310.0 600.5,1308.2 601.5,1307.5 602.5,1307.6 603.8,1308.5 605.3,1310.4 607.3,1313.7 609.8,1318.7 612.0,1324.0 614.3,1330.0 625.3,1362.9 632.3,1386.9 635.8,1397.1 638.3,1402.9 640.8,1407.7 643.0,1410.9 644.0,1411.9 645.0,1412.4 646.0,1412.5 647.0,1411.9 648.0,1410.9 649.0,1409.3 651.3,1404.6 655.3,1394.2 656.3,1391.1 657.0,1388.0 659.0,1375.2 660.3,1369.7 666.0,1353.7 667.3,1351.1 668.3,1350.1 668.8,1350.1 669.3,1350.5 670.5,1352.5 687.5,1388.1 691.0,1394.7 697.5,1406.0 703.3,1417.3 705.0,1420.1 706.8,1422.2 708.5,1423.4 710.0,1423.8 711.3,1423.4 712.5,1422.5 719.0,1415.0 724.3,1410.2 727.8,1407.4 729.0,1406.8 730.0,1406.7 731.3,1407.0 735.0,1408.1 736.0,1408.2 737.0,1408.0 738.5,1407.2 740.8,1405.5 742.8,1403.6 744.5,1401.5 746.0,1399.2 747.5,1396.1 755.8,1374.9 765.0,1352.8 767.0,1348.7 768.5,1346.1 769.3,1345.4 770.3,1345.4 771.3,1346.1 772.3,1347.3 774.8,1351.8 777.0,1357.6 778.8,1363.9 780.8,1375.5 783.8,1396.8 787.3,1419.5 789.3,1431.1 790.3,1435.6 791.0,1437.2 792.5,1438.9 794.8,1440.6 796.8,1441.7 797.5,1441.8 798.5,1441.5 801.8,1439.1 802.5,1439.0 803.3,1439.3 804.5,1440.5 806.3,1442.9 809.3,1448.5 813.5,1458.6 816.3,1466.8 818.3,1475.2 821.5,1494.6 823.3,1502.7 825.0,1508.9 827.0,1514.9 829.0,1520.2 831.3,1525.2 833.3,1528.8 834.0,1529.4 834.8,1529.2 835.5,1528.2 836.3,1526.8 840.3,1517.7 842.0,1515.0 844.8,1512.2 847.0,1510.5 848.8,1509.8 849.5,1510.0 850.0,1510.3 851.0,1511.5 853.0,1514.7 856.5,1521.7 870.0,1554.2 872.0,1558.6 874.3,1562.4 875.0,1563.0 875.8,1562.8 876.8,1561.2 877.8,1558.2 878.8,1553.9 879.8,1548.0 889.0,1464.3 890.8,1450.0 901.0,1381.0 902.8,1372.3 904.8,1365.5 906.0,1362.7 906.8,1362.1 907.5,1362.6 908.5,1364.7 911.8,1374.7 915.0,1389.3 919.3,1403.5 920.8,1407.6 922.0,1410.4 923.5,1412.8 924.8,1414.1 925.5,1414.3 926.3,1413.9 930.0,1408.1 934.5,1403.7 936.3,1401.6 937.5,1399.5 938.8,1396.8 940.5,1391.1 941.3,1387.1 942.3,1379.3 946.3,1344.5 954.0,1250.2 957.0,1220.2 959.8,1196.5 962.0,1184.5 965.3,1171.3 967.0,1166.4 971.5,1155.8 973.3,1150.5 974.5,1144.7 977.0,1129.7 980.8,1110.6 982.0,1105.8 982.5,1104.8 983.0,1104.6 983.5,1105.2 984.0,1106.8 985.3,1113.4 988.8,1136.9 990.5,1152.3 1002.8,1333.8 1004.0,1344.9 1006.5,1360.2 1007.3,1363.9 1008.5,1368.4 1010.0,1372.8 1011.8,1376.9 1014.3,1381.0 1020.8,1389.5 1022.3,1392.0 1023.5,1394.9 1027.5,1405.2 1031.3,1415.7 1041.8,1447.5 1045.3,1459.7 1048.5,1473.8 1061.3,1538.8 1063.5,1546.7 1066.5,1555.1 1068.3,1559.1 1069.5,1560.9 1070.0,1561.3 1070.8,1561.4 1072.0,1560.7 1073.8,1558.4 1076.3,1553.8 1082.8,1539.5 1084.0,1536.1 1086.5,1527.9 1088.5,1523.2 1090.3,1520.2 1095.3,1513.0 1097.3,1511.0 1098.3,1510.4 1099.0,1510.2 1099.8,1510.3 1100.8,1510.7 1102.8,1512.5 1105.0,1515.5 1109.8,1522.8 1112.0,1527.9 1115.0,1537.4 1116.3,1540.8 1119.3,1547.2 1122.0,1552.1 1124.3,1555.4 1126.0,1557.5 1128.0,1559.1 1130.0,1560.0 1131.3,1560.3 1132.5,1560.4 1134.5,1559.9 1137.3,1558.1 1140.5,1555.1 1143.0,1552.2 1144.5,1550.0 1148.3,1542.1 1149.5,1539.8 1151.0,1537.8 1152.8,1536.1 1155.0,1534.6 1157.8,1533.1 1166.0,1529.7 1168.3,1529.1 1169.8,1529.2 1171.3,1529.8 1172.8,1531.0 1174.3,1532.8 1176.5,1536.4 1178.8,1540.6 1181.8,1549.6 1183.5,1553.3 1185.5,1556.0 1188.3,1559.0 1190.5,1560.9 1192.5,1562.0 1194.5,1562.3 1195.5,1562.2 1196.5,1561.7 1198.3,1560.5 1202.3,1556.7 1204.3,1555.1 1207.8,1553.3 1211.5,1551.8 1215.0,1551.0 1218.8,1550.7 1222.3,1550.8 1227.8,1551.4" stroke="#2828c8"/>
<path d="M1369.0,444.4 1377.8,443.7 1388.5,442.5 1396.8,441.3 1404.8,439.7 1410.8,438.3 1415.0,437.0 1421.8,434.2 1426.0,432.0 1428.5,430.2 1430.8,428.1 1432.8,425.6 1434.5,422.7 1436.8,417.9 1441.5,405.0 1444.2,398.5 1448.5,389.7 1449.8,387.6 1451.2,385.5 1452.8,383.8 1454.2,382.6 1455.5,382.0 1457.0,381.8 1458.5,382.1 1460.0,382.9 1461.8,384.4 1463.0,385.8 1466.8,392.2 1470.0,398.4 1473.5,405.8 1475.8,409.5 1478.8,412.7 1488.2,421.0 1490.2,423.2 1492.0,425.5 1493.8,428.5 1495.2,431.8 1496.5,435.2 1497.5,438.9 1500.8,455.4 1505.2,483.4 1507.8,501.0 1512.8,544.9 1521.5,630.0 1522.5,638.4 1523.8,646.1 1525.0,652.2 1526.5,657.1 1527.0,658.1 1527.5,658.5 1528.0,658.3 1528.5,657.6 1529.5,655.1 1530.5,651.5 1531.2,647.7 1532.8,637.2 1534.0,622.8 1541.0,526.1 1543.0,494.5 1545.2,453.7 1548.0,381.6 1549.5,357.6 1553.5,320.5 1555.0,309.0 1556.8,297.5 1557.5,293.8 1558.8,290.0 1560.2,287.1 1561.2,286.3 1562.0,286.5 1562.8,287.2 1564.5,290.1 1566.5,295.1 1567.8,299.7 1590.8,413.8 1610.0,515.0 1612.5,527.4 1617.2,549.1 1619.5,557.7 1621.0,562.5 1622.5,566.5 1624.0,569.4 1625.0,570.3 1625.5,570.3 1626.0,569.9 1627.5,567.4 1629.0,563.5 1630.2,558.9 1634.5,534.7 1636.5,521.5 1637.5,512.4 1641.0,469.5 1644.2,425.8 1648.5,363.1 1652.5,317.0 1654.0,305.8 1656.0,297.1 1657.2,293.5 1658.5,290.8 1659.8,288.9 1661.0,287.9 1662.0,288.1 1663.2,289.4 1664.5,291.4 1665.8,294.4 1667.8,302.3 1669.5,312.6 1671.0,327.4 1676.0,398.9 1678.0,424.2 1680.5,450.1 1686.0,501.3 1687.2,514.6 1688.5,523.4 1690.0,530.0 1692.5,537.5 1693.5,539.5 1694.0,540.1 1694.5,540.4 1695.0,540.3 1695.8,539.5 1697.0,537.0 1698.5,532.3 1699.2,528.3 1701.2,512.6 1712.8,407.7 1713.8,401.1 1715.0,395.0 1716.5,389.8 1718.0,385.9 1718.8,384.6 1719.5,383.8 1720.0,383.7 1720.8,384.3 1721.8,386.1 1722.8,388.7 1724.5,395.1 1725.8,401.6 1726.8,408.2 1734.2,465.5 1736.8,482.3 1738.8,491.0 1741.2,499.3 1743.2,503.9 1744.0,504.8 1744.8,505.0 1745.2,504.5 1746.0,502.6 1748.0,495.6 1750.0,486.7 1752.2,474.8 1756.2,450.8 1762.8,403.7 1764.2,394.0 1765.5,387.5 1767.5,379.5 1770.0,372.2 1771.0,370.4 1772.2,368.9 1773.8,367.7 1775.0,367.2 1775.8,367.2 1776.5,367.6 1778.5,369.9 1780.5,373.4 1781.8,377.0 1783.5,388.4 1788.0,422.1 1790.2,441.5 1791.5,449.5 1793.0,456.4 1795.5,465.3 1799.0,479.4 1800.5,484.3 1801.8,486.8 1802.2,487.3 1802.8,487.5 1803.5,487.0 1804.8,485.0 1806.2,481.4 1814.5,455.9 1821.8,430.3 1823.8,424.9 1824.5,423.6 1825.5,422.4 1828.2,420.1 1831.5,418.3 1834.0,417.7 1836.0,418.0 1838.8,419.8 1843.0,423.2 1846.2,426.3 1851.8,432.7 1853.2,433.8 1854.5,434.2 1855.8,433.7 1857.2,432.2 1859.8,428.8 1862.2,424.2 1862.8,423.7 1863.2,423.6 1863.8,424.1 1864.5,425.3 1866.2,429.3 1868.0,434.5 1869.8,440.9 1873.8,457.7 1878.0,481.4 1880.5,491.8 1882.8,499.1 1885.0,505.2 1886.8,508.8 1887.5,509.7 1888.0,509.9 1888.5,509.6 1889.0,508.4 1890.5,501.9 1897.2,465.4 1903.2,437.0 1907.8,419.2 1909.2,415.5 1909.8,414.8 1910.5,414.4 1911.2,414.8 1912.0,415.8 1927.8,443.8 1928.8,445.3 1929.5,445.8 1930.2,445.2 1931.0,443.7 1934.0,432.7 1934.8,430.7 1936.0,428.2 1938.5,423.9 1940.2,421.6 1941.5,420.7 1942.2,420.8 1942.8,421.1 1943.8,422.5 1944.8,424.7 1948.8,437.0 1951.8,444.0 1956.8,457.0 1959.0,461.2 1960.0,462.3 1961.0,462.7 1961.8,462.4 1962.5,461.5 1964.8,457.4 1972.2,439.5 1979.2,424.0 1983.8,415.0 1985.2,412.3 1986.0,411.3 1987.0,410.8 1988.2,411.1 1990.5,412.9 1993.2,415.9 1999.2,423.3 2002.8,428.5 2007.5,436.7 2012.5,446.0 2014.5,450.2 2020.0,463.2 2021.8,466.6 2024.0,470.3 2026.8,474.0 2029.2,476.8 2031.5,478.6 2033.2,479.2 2034.0,479.1 2034.8,478.6 2036.0,476.8 2047.2,453.3 2057.8,430.5 2059.8,426.6 2060.2,426.0 2061.0,425.6 2061.8,425.8 2062.8,426.8 2065.0,430.6 2071.5,444.5 2075.8,456.0 2078.2,461.1 2081.0,465.2 2083.8,468.3 2085.0,469.4 2086.0,469.9 2086.8,470.0 2087.5,469.7 2088.0,469.1 2088.8,467.7 2091.8,460.4 2100.0,438.0 2101.5,432.9 2105.0,418.4 2106.2,414.3 2107.8,411.1 2108.5,410.3 2109.2,410.0 2110.0,410.2 2110.8,410.8 2112.5,413.3 2114.2,416.8 2119.2,428.5 2125.0,439.6 2130.8,450.1 2131.8,451.5 2132.8,452.0 2133.8,451.8 2135.2,450.6 2141.2,443.2 2144.0,440.7 2151.0,437.0 2153.0,436.2 2155.0,435.9 2157.0,435.9 2159.2,436.4 2167.0,439.1 2169.8,439.9 2176.0,441.2 2181.5,442.0 2188.0,442.2 2202.2,441.4 2204.8,441.4 2206.8,441.7 2209.0,442.3 2211.5,443.4 2221.8,449.1 2224.2,450.0 2226.5,450.4 2228.8,450.1 2231.2,449.1 2250.0,439.1 2262.5,432.7 2268.2,430.0 2271.5,429.1 2273.8,429.0 2276.0,429.3 2278.5,430.0 2281.0,431.1 2286.2,434.3 2294.8,440.9 2295.2,441.0" stroke="#1e1e1e"/>
<path d="M1369.0,444.5 1379.0,443.2 1392.0,440.8 1400.5,438.8 1407.2,436.6 1412.2,434.3 1417.8,430.7 1424.8,425.5 1427.2,423.2 1429.5,420.9 1432.0,417.5 1433.8,414.2 1435.2,410.0 1437.0,403.9 1439.2,394.1 1443.2,371.9 1445.2,362.2 1450.5,340.2 1451.8,335.8 1453.0,332.3 1454.5,329.1 1456.0,326.7 1457.2,325.4 1458.5,325.0 1459.2,325.2 1460.0,325.8 1461.5,327.6 1463.2,330.5 1464.8,333.8 1466.5,338.7 1468.2,344.8 1471.2,356.9 1474.8,373.0 1476.8,380.2 1478.5,384.2 1481.2,389.0 1483.0,391.5 1487.0,396.4 1489.0,399.8 1491.8,406.2 1494.0,413.5 1495.8,420.5 1496.8,425.9 1499.2,442.6 1502.8,468.7 1504.0,479.7 1504.8,489.0 1511.0,572.8 1512.5,596.2 1516.2,661.6 1517.0,681.9 1518.2,727.9 1520.0,759.7 1521.8,782.9 1524.8,817.7 1525.5,823.9 1526.5,829.8 1527.2,832.9 1527.8,834.1 1528.0,834.3 1528.2,834.2 1528.8,833.2 1529.8,829.3 1530.8,823.9 1531.5,817.9 1534.5,783.0 1536.0,761.7 1536.8,747.8 1538.2,691.5 1541.2,557.4 1542.0,536.2 1546.0,449.7 1549.0,332.7 1551.5,252.3 1554.2,173.2 1554.8,166.6 1556.0,160.0 1559.2,150.9 1560.2,148.9 1561.0,148.2 1561.8,148.5 1562.8,150.0 1566.8,160.1 1568.5,166.7 1569.8,174.7 1570.5,183.2 1571.5,198.9 1573.5,240.1 1574.5,257.1 1578.2,300.8 1585.2,375.0 1588.0,401.8 1591.2,430.5 1602.0,547.4 1607.2,593.8 1611.0,620.2 1614.5,642.3 1616.2,651.7 1618.2,659.5 1620.5,666.0 1623.0,671.4 1624.0,672.8 1624.8,673.4 1625.2,673.5 1625.8,673.3 1626.8,672.1 1627.8,670.1 1628.8,667.1 1630.2,659.7 1631.5,649.0 1635.5,597.4 1638.2,547.5 1645.5,428.9 1646.5,405.7 1647.5,363.5 1653.5,187.8 1653.8,174.2 1654.2,169.1 1655.5,165.0 1656.8,162.5 1658.5,159.7 1659.5,158.4 1660.5,157.7 1661.5,157.7 1662.5,158.4 1664.0,160.4 1665.8,163.4 1667.2,167.2 1667.8,169.7 1668.0,172.1 1668.2,185.0 1676.2,357.4 1680.8,431.6 1684.0,501.2 1685.2,524.0 1688.0,566.5 1690.0,588.8 1691.5,602.9 1692.5,609.8 1694.0,617.1 1694.5,618.7 1695.0,619.4 1695.2,619.3 1695.8,618.6 1696.5,616.6 1698.2,609.6 1700.0,598.6 1701.2,587.4 1708.8,466.2 1712.2,406.7 1714.8,378.5 1718.2,346.4 1719.2,339.9 1719.8,338.9 1720.0,339.2 1720.8,342.3 1721.8,348.9 1722.8,357.5 1727.2,403.3 1734.8,485.0 1738.0,514.4 1739.8,526.5 1742.0,537.4 1743.2,541.8 1744.2,544.4 1745.2,545.9 1745.8,546.0 1746.0,545.8 1746.8,544.7 1747.5,542.8 1749.2,536.5 1751.5,526.2 1753.0,516.8 1754.2,505.4 1762.0,421.6 1764.8,381.1 1766.2,364.3 1767.8,352.6 1770.0,338.9 1773.5,314.9 1775.0,307.9 1775.8,306.1 1776.2,305.6 1776.8,305.9 1777.5,307.6 1779.0,314.3 1782.8,339.9 1784.8,352.0 1786.0,361.2 1787.8,379.8 1790.5,420.4 1797.8,498.4 1800.2,520.6 1801.5,527.9 1802.5,531.3 1803.0,532.1 1803.5,532.1 1804.0,531.6 1804.5,530.4 1805.5,526.9 1806.8,520.8 1811.8,488.1 1815.2,466.7 1821.0,428.4 1822.5,419.7 1824.0,412.8 1825.0,409.2 1826.2,405.6 1827.5,402.8 1829.0,400.5 1830.5,399.1 1832.2,398.3 1834.5,397.9 1836.0,398.2 1839.8,400.9 1841.8,402.7 1843.8,405.1 1845.8,408.1 1847.5,412.3 1851.2,425.4 1852.8,429.0 1854.0,431.0 1854.5,431.5 1855.2,431.7 1856.8,430.9 1859.2,428.5 1862.0,424.7 1862.8,424.1 1863.2,424.0 1863.8,424.3 1864.5,425.2 1866.2,428.1 1867.8,431.6 1869.0,435.3 1870.5,441.8 1871.8,450.6 1876.2,489.6 1879.2,512.0 1884.8,557.1 1886.8,569.1 1887.8,572.7 1888.5,573.8 1889.0,573.5 1889.5,572.4 1890.5,568.1 1891.5,560.8 1892.5,550.8 1897.0,490.5 1899.8,446.9 1901.5,426.8 1903.0,415.5 1904.8,406.2 1906.2,400.6 1908.2,395.3 1909.2,393.4 1910.2,392.2 1911.0,392.1 1911.8,393.1 1918.5,413.6 1926.0,438.6 1928.2,444.5 1929.0,445.8 1929.5,446.0 1930.0,445.6 1930.5,444.6 1931.5,440.8 1935.0,419.5 1939.5,400.1 1940.5,396.6 1941.2,394.8 1941.8,394.2 1942.0,394.2 1942.5,394.6 1943.5,397.1 1944.8,401.5 1947.2,413.3 1951.2,434.8 1956.5,467.7 1958.8,479.8 1960.0,485.0 1961.0,488.0 1962.0,489.9 1962.8,490.3 1963.5,489.5 1964.5,486.7 1965.5,482.2 1966.5,476.5 1970.8,447.3 1973.8,429.4 1977.0,403.0 1978.8,391.4 1983.0,370.5 1984.0,367.1 1984.5,366.0 1985.0,365.6 1985.2,365.7 1985.8,366.6 1987.0,371.0 1996.0,410.0 1997.0,413.6 1998.5,417.8 2001.2,423.8 2003.0,426.6 2003.8,427.3 2004.8,427.7 2010.2,428.8 2011.5,429.7 2012.2,430.9 2015.2,438.6 2019.0,449.4 2022.0,458.6 2026.2,472.8 2028.5,479.3 2030.2,483.7 2032.0,487.3 2033.2,489.2 2034.5,490.2 2035.2,490.1 2036.0,489.4 2037.0,487.9 2038.0,485.9 2040.0,480.8 2043.8,469.8 2046.2,461.4 2048.2,453.7 2049.2,448.4 2051.2,435.5 2052.8,428.9 2054.8,422.4 2056.5,417.6 2058.0,414.5 2058.8,413.5 2059.2,413.2 2059.8,413.3 2060.5,414.2 2062.0,417.6 2066.8,436.2 2068.0,440.0 2070.5,446.2 2083.2,474.9 2085.5,478.8 2086.5,479.8 2087.2,480.2 2088.2,479.8 2089.8,477.7 2091.2,474.4 2092.5,470.7 2094.2,464.0 2098.8,444.8 2101.5,428.4 2103.0,421.4 2104.2,417.3 2106.0,413.0 2107.5,410.3 2108.2,409.4 2108.8,409.1 2109.5,409.4 2110.2,410.7 2128.8,456.4 2131.2,462.1 2132.0,463.2 2132.5,463.4 2133.0,463.2 2133.5,462.5 2134.5,460.2 2139.0,442.9 2140.0,440.1 2141.5,437.0 2145.0,431.7 2149.8,426.1 2152.8,423.2 2154.0,422.4 2155.2,422.0 2156.2,422.0 2157.5,422.5 2160.0,424.4 2165.8,431.0 2169.5,436.9 2171.5,439.4 2174.5,442.4 2176.5,444.1 2178.2,445.1 2179.8,445.6 2181.5,445.4 2184.0,444.1 2194.0,437.3 2199.8,433.0 2201.8,431.9 2203.5,431.5 2205.5,431.9 2208.0,433.5 2210.2,435.4 2215.2,440.4 2224.8,449.3 2227.8,451.4 2229.2,452.1 2230.5,452.4 2232.2,452.2 2234.2,451.3 2239.8,447.2 2251.8,439.5 2259.8,433.2 2262.2,431.8 2264.8,431.0 2266.8,430.9 2268.8,431.4 2271.2,432.5 2277.0,435.6 2279.8,436.9 2290.0,440.5 2294.5,441.8 2295.2,441.8" stroke="#d8242c"/>
<path d="M1369.0,444.4 1379.0,443.2 1392.0,440.8 1400.5,438.9 1407.2,436.8 1412.2,434.6 1417.8,431.2 1424.8,426.2 1427.2,424.0 1429.5,421.8 1432.0,418.5 1433.8,415.4 1435.2,411.3 1437.0,405.5 1439.2,396.1 1443.2,374.8 1445.2,365.6 1450.5,344.5 1451.8,340.2 1453.0,336.9 1454.5,333.8 1456.0,331.5 1457.2,330.3 1458.5,329.9 1459.2,330.1 1460.0,330.6 1461.5,332.3 1463.2,335.2 1464.8,338.4 1466.5,343.0 1468.2,348.9 1471.2,360.5 1474.8,375.9 1476.8,382.8 1478.5,386.6 1481.2,391.2 1483.0,393.7 1487.0,398.3 1489.0,401.6 1491.8,407.7 1494.0,414.8 1495.8,421.4 1496.8,426.6 1499.2,442.6 1502.8,467.6 1504.0,478.2 1504.8,487.1 1511.0,567.4 1512.5,589.8 1516.2,652.6 1517.0,672.0 1518.2,716.1 1520.0,746.5 1521.8,768.8 1524.8,802.2 1525.5,808.1 1526.5,813.7 1527.2,816.8 1527.8,817.9 1528.0,818.1 1528.2,818.0 1528.8,817.1 1529.8,813.3 1530.8,808.1 1531.5,802.3 1534.5,768.9 1536.0,748.5 1536.8,735.2 1538.2,681.2 1541.2,552.7 1542.0,532.4 1546.0,449.4 1549.0,337.3 1551.5,260.2 1554.2,184.4 1554.8,178.0 1556.0,171.7 1559.2,163.0 1560.2,161.1 1561.0,160.4 1561.8,160.7 1562.8,162.1 1566.8,171.8 1568.5,178.1 1569.8,185.8 1570.5,194.0 1571.5,209.0 1573.5,248.5 1574.5,264.8 1578.2,306.7 1585.2,377.8 1588.0,403.5 1591.2,431.0 1602.0,543.1 1607.2,587.5 1611.0,612.8 1614.5,634.0 1616.2,643.0 1618.2,650.5 1620.5,656.8 1623.0,661.9 1624.0,663.3 1624.8,663.9 1625.2,663.9 1625.8,663.7 1626.8,662.6 1627.8,660.7 1628.8,657.8 1630.2,650.7 1631.5,640.4 1635.5,591.0 1638.2,543.1 1645.5,429.5 1646.5,407.2 1647.5,366.8 1653.5,198.4 1653.8,185.3 1654.2,180.5 1655.5,176.5 1656.8,174.1 1658.5,171.4 1659.5,170.2 1660.5,169.5 1661.5,169.5 1662.5,170.2 1664.0,172.1 1665.8,175.0 1667.2,178.7 1667.8,181.0 1668.0,183.3 1668.2,195.7 1676.2,361.0 1680.8,432.1 1684.0,498.8 1685.2,520.6 1688.0,561.4 1690.0,582.8 1691.5,596.3 1692.5,602.9 1694.0,609.9 1694.5,611.4 1695.0,612.1 1695.2,612.0 1695.8,611.3 1696.5,609.4 1698.2,602.6 1700.0,592.1 1701.2,581.4 1708.8,465.2 1712.2,408.2 1714.8,381.1 1718.2,350.4 1719.2,344.2 1719.8,343.2 1720.0,343.5 1720.8,346.5 1721.8,352.7 1722.8,361.0 1727.2,405.0 1734.8,483.2 1738.0,511.4 1739.8,523.0 1742.0,533.5 1743.2,537.7 1744.2,540.2 1745.2,541.6 1745.8,541.7 1746.0,541.5 1746.8,540.5 1747.5,538.7 1749.2,532.7 1751.5,522.8 1753.0,513.7 1754.2,502.8 1762.0,422.4 1764.8,383.7 1766.2,367.5 1767.8,356.4 1770.0,343.2 1773.5,320.2 1775.0,313.5 1775.8,311.7 1776.2,311.3 1776.8,311.6 1777.5,313.2 1779.0,319.7 1782.8,344.2 1784.8,355.7 1786.0,364.6 1787.8,382.4 1790.5,421.3 1797.8,496.1 1800.2,517.4 1801.5,524.4 1802.5,527.6 1803.0,528.4 1803.5,528.4 1804.0,527.9 1804.5,526.8 1805.5,523.4 1806.8,517.5 1811.8,486.2 1815.2,465.7 1821.0,429.0 1822.5,420.5 1824.0,413.7 1825.2,409.3 1826.5,405.7 1827.8,402.9 1829.2,400.3 1830.8,398.6 1832.8,397.1 1834.8,396.4 1836.0,396.6 1838.2,398.5 1841.0,401.5 1843.2,404.7 1845.8,408.8 1847.5,413.2 1851.2,426.1 1852.8,429.5 1854.0,431.5 1854.5,431.9 1855.2,432.1 1856.8,431.4 1859.2,429.1 1862.0,425.4 1862.8,424.8 1863.2,424.8 1863.8,425.1 1864.5,425.9 1866.2,428.7 1867.8,432.0 1869.0,435.6 1870.5,441.8 1871.8,450.3 1876.2,487.6 1879.2,509.1 1884.8,552.4 1886.8,563.9 1887.8,567.3 1888.5,568.3 1889.0,568.1 1889.5,567.0 1890.5,562.9 1891.5,555.9 1892.5,546.3 1897.0,489.5 1900.0,443.5 1901.5,427.4 1902.8,418.6 1904.2,411.1 1906.2,403.7 1908.5,397.5 1909.5,395.6 1910.5,394.6 1911.0,394.5 1911.2,394.7 1912.0,396.0 1914.5,402.6 1918.5,414.5 1924.0,433.3 1926.0,439.5 1928.0,444.2 1928.8,445.3 1929.5,445.5 1930.0,445.0 1930.5,443.9 1931.2,441.0 1932.2,434.9 1935.0,414.8 1939.0,396.6 1940.0,392.6 1941.0,389.6 1941.8,388.4 1942.2,388.5 1942.5,388.9 1944.0,393.4 1945.8,401.0 1950.2,426.5 1952.2,439.9 1956.5,472.1 1958.5,484.7 1959.5,489.6 1960.5,493.2 1961.5,495.3 1962.0,495.7 1962.5,495.7 1963.2,494.5 1964.2,491.4 1965.2,486.6 1966.5,479.0 1970.5,449.7 1973.5,430.1 1977.0,399.3 1978.8,386.9 1983.0,364.6 1984.2,360.2 1984.8,359.1 1985.2,358.7 1985.8,359.0 1986.5,360.7 1988.2,367.7 1992.2,388.5 1995.8,410.5 1997.5,419.5 1999.0,425.4 2000.5,430.2 2002.2,434.8 2003.2,436.5 2004.0,437.2 2005.2,438.0 2010.2,440.1 2012.0,441.5 2014.2,445.0 2018.0,452.8 2019.8,456.0 2022.0,459.1 2024.8,462.1 2028.0,465.0 2030.8,466.8 2033.0,467.6 2035.0,467.6 2037.2,466.4 2040.2,463.8 2045.0,458.7 2047.5,455.1 2048.5,453.0 2049.5,449.9 2051.5,439.7 2052.8,435.7 2055.8,428.1 2057.2,424.8 2058.5,423.0 2059.2,422.6 2059.8,422.7 2061.0,424.4 2062.2,427.4 2066.0,439.6 2067.8,444.4 2076.5,462.6 2078.5,467.2 2085.0,485.6 2086.5,488.5 2087.2,489.5 2088.0,489.9 2088.8,489.8 2089.2,489.5 2090.5,487.6 2091.8,484.2 2093.0,479.5 2096.8,460.6 2099.0,450.4 2100.0,444.0 2101.8,430.4 2103.5,421.8 2104.5,418.7 2106.0,415.3 2107.5,412.8 2108.2,412.0 2108.8,411.7 2109.5,412.0 2110.5,414.1 2120.0,440.0 2121.8,446.1 2126.8,467.3 2128.2,471.6 2129.0,473.0 2129.8,473.5 2130.5,473.3 2131.0,472.5 2133.0,467.4 2145.0,430.8 2148.2,421.5 2149.8,418.6 2151.5,416.2 2153.5,414.4 2155.2,413.6 2156.5,413.7 2157.8,414.4 2159.2,415.7 2161.0,417.7 2166.0,424.4 2170.8,433.2 2174.0,437.3 2175.8,439.1 2177.5,440.4 2179.2,441.3 2181.0,441.9 2182.8,442.0 2184.8,441.9 2189.5,441.0 2194.5,439.4 2201.0,436.1 2202.8,435.7 2204.2,435.7 2206.0,436.3 2208.2,437.4 2216.0,442.4 2226.0,448.2 2229.8,449.8 2231.0,450.1 2232.2,450.1 2234.5,449.4 2237.5,447.7 2249.8,439.5 2260.5,431.7 2263.2,430.5 2266.0,430.0 2267.8,430.3 2269.8,431.0 2277.2,434.8 2280.5,436.2 2290.5,439.8 2295.2,441.3" stroke="#2a7f2a"/>
<path d="M1369.0,444.4 1379.0,443.2 1392.0,440.9 1400.5,439.1 1407.2,437.0 1412.2,434.9 1417.8,431.7 1424.8,426.8 1427.2,424.8 1429.5,422.6 1432.0,419.5 1433.8,416.4 1435.2,412.5 1437.0,406.9 1439.2,397.9 1443.2,377.4 1445.2,368.6 1450.5,348.3 1451.8,344.2 1453.0,341.0 1454.5,338.0 1456.0,335.8 1457.2,334.6 1458.5,334.2 1459.2,334.4 1460.0,334.9 1461.5,336.6 1463.2,339.3 1464.8,342.4 1466.5,346.9 1468.2,352.5 1471.2,363.7 1474.8,378.5 1476.8,385.1 1478.5,388.7 1481.2,393.2 1483.0,395.5 1487.0,400.0 1489.0,403.2 1491.8,409.1 1494.0,415.8 1495.8,422.2 1496.8,427.2 1499.2,442.7 1502.8,466.7 1504.0,476.8 1504.8,485.4 1511.0,562.6 1512.5,584.1 1516.2,644.5 1517.0,663.2 1518.2,705.6 1520.0,734.9 1521.8,756.3 1524.8,788.3 1525.5,794.1 1526.5,799.4 1527.2,802.4 1527.8,803.5 1528.0,803.7 1528.2,803.6 1528.8,802.7 1529.8,799.0 1530.8,794.1 1531.5,788.5 1534.5,756.3 1536.0,736.7 1536.8,723.9 1538.2,672.1 1541.2,548.5 1542.0,528.9 1546.0,449.1 1549.0,341.3 1551.5,267.3 1554.2,194.3 1554.8,188.2 1556.0,182.2 1559.2,173.7 1560.2,171.9 1561.0,171.3 1561.8,171.5 1562.8,172.9 1566.8,182.3 1568.5,188.3 1569.8,195.7 1570.5,203.6 1571.5,218.0 1573.5,256.0 1574.5,271.6 1578.2,311.9 1585.2,380.3 1588.0,405.0 1591.2,431.4 1602.0,539.2 1607.2,582.0 1611.0,606.3 1614.5,626.6 1616.2,635.3 1618.2,642.5 1620.5,648.6 1623.0,653.5 1624.0,654.8 1624.8,655.4 1625.2,655.4 1625.8,655.2 1626.8,654.2 1627.8,652.3 1628.8,649.6 1630.2,642.7 1631.5,632.8 1635.5,585.3 1638.2,539.3 1645.5,430.0 1646.5,408.6 1647.5,369.7 1653.5,207.8 1653.8,195.3 1654.2,190.6 1655.5,186.7 1656.8,184.4 1658.5,181.9 1659.5,180.7 1660.5,180.1 1661.5,180.1 1662.5,180.7 1664.0,182.6 1665.8,185.3 1667.2,188.8 1667.8,191.1 1668.0,193.3 1668.2,205.2 1676.2,364.1 1680.8,432.5 1684.0,496.6 1685.2,517.6 1688.0,556.8 1690.0,577.4 1691.5,590.4 1692.5,596.7 1694.0,603.4 1694.5,604.9 1695.0,605.6 1695.2,605.5 1695.8,604.8 1696.5,603.0 1698.2,596.5 1700.0,586.4 1701.2,576.0 1708.8,464.3 1712.2,409.5 1714.8,383.5 1718.2,354.0 1719.2,348.0 1719.8,347.0 1720.0,347.3 1720.8,350.2 1721.8,356.2 1722.8,364.1 1727.2,406.4 1734.8,481.7 1738.0,508.8 1739.8,519.9 1742.0,530.0 1743.2,534.1 1744.2,536.4 1745.2,537.8 1745.8,537.9 1746.0,537.7 1746.8,536.7 1747.5,535.0 1749.2,529.2 1751.5,519.7 1753.0,511.0 1754.2,500.5 1762.0,423.2 1764.8,385.9 1766.2,370.4 1767.8,359.7 1770.0,347.0 1773.5,324.9 1775.0,318.4 1775.8,316.8 1776.2,316.4 1776.8,316.6 1777.5,318.2 1779.0,324.4 1782.8,348.0 1784.8,359.1 1786.0,367.6 1787.8,384.7 1790.5,422.2 1797.8,494.1 1800.2,514.5 1801.5,521.2 1802.5,524.4 1803.0,525.1 1803.5,525.1 1804.0,524.6 1804.5,523.6 1805.5,520.3 1806.8,514.7 1811.8,484.6 1815.2,464.9 1821.2,427.9 1822.8,419.7 1824.2,413.0 1827.0,403.5 1830.0,395.8 1831.8,392.5 1833.2,390.3 1834.5,389.2 1835.2,388.9 1835.8,388.9 1836.5,389.5 1837.2,390.4 1839.2,393.8 1841.2,397.9 1845.5,407.7 1847.2,412.5 1851.0,425.8 1852.2,428.9 1853.5,431.2 1854.2,432.1 1854.8,432.4 1855.5,432.5 1856.2,432.2 1859.0,429.9 1862.2,425.9 1862.8,425.5 1863.2,425.5 1863.8,425.8 1864.5,426.5 1866.2,429.3 1867.8,432.5 1869.2,436.7 1870.5,441.9 1871.8,450.0 1876.2,485.9 1879.2,506.5 1884.8,548.2 1886.8,559.2 1887.8,562.5 1888.5,563.5 1889.0,563.2 1889.5,562.3 1890.5,558.3 1891.5,551.6 1892.5,542.4 1897.0,488.6 1899.8,446.8 1901.2,430.1 1902.5,421.3 1904.0,413.9 1905.8,407.6 1908.0,401.5 1909.2,399.1 1910.2,397.9 1910.8,397.8 1911.2,398.0 1912.0,399.1 1914.5,405.3 1918.8,417.2 1924.0,434.9 1925.8,440.2 1926.8,442.6 1927.8,444.3 1928.5,445.0 1929.2,445.0 1930.0,444.1 1930.5,442.9 1931.5,438.4 1935.0,410.4 1939.5,387.1 1940.5,382.8 1941.2,380.5 1942.0,379.4 1942.2,379.4 1942.8,380.0 1944.2,384.4 1945.8,391.5 1947.5,402.3 1950.2,421.8 1952.2,438.8 1956.5,481.0 1958.5,497.0 1959.5,502.6 1960.2,505.6 1961.0,507.2 1961.5,507.6 1961.8,507.5 1962.2,506.9 1962.8,505.6 1963.8,501.8 1965.0,494.9 1966.2,486.2 1973.5,428.3 1977.2,391.0 1979.2,374.9 1981.0,364.0 1982.8,354.8 1984.2,349.2 1984.8,348.0 1985.2,347.5 1985.8,347.8 1986.5,349.6 1988.0,356.0 1991.2,376.6 1992.5,386.0 1996.0,420.1 1996.2,423.7 1996.5,441.1 1997.0,443.8 1998.0,447.0 1999.0,449.2 2000.5,451.8 2001.8,453.4 2003.0,454.7 2004.2,455.4 2005.5,455.7 2007.2,455.7 2011.8,454.6 2017.5,453.7 2020.0,453.0 2022.0,452.2 2031.0,446.1 2032.8,445.2 2034.2,445.0 2035.5,445.3 2037.2,446.3 2041.8,449.8 2045.8,453.8 2046.8,454.3 2047.5,454.3 2048.5,453.7 2050.0,452.1 2058.0,440.9 2059.5,439.8 2060.2,439.6 2061.0,439.9 2062.2,441.1 2063.5,443.4 2067.8,454.4 2077.8,475.5 2079.8,480.6 2084.8,495.2 2086.2,498.4 2087.0,499.3 2087.5,499.7 2088.0,499.7 2088.5,499.6 2089.8,498.1 2091.0,495.3 2092.0,492.0 2093.8,483.9 2096.8,466.4 2099.0,454.9 2101.8,435.9 2103.0,429.2 2104.2,424.3 2105.5,421.0 2107.2,417.6 2108.0,416.6 2108.8,416.1 2109.5,416.3 2110.2,417.6 2115.0,430.1 2120.8,447.5 2126.0,467.8 2127.8,473.8 2129.5,478.3 2130.5,479.8 2131.2,480.3 2132.0,480.1 2133.0,478.7 2134.0,476.1 2135.0,472.4 2138.8,455.1 2141.2,444.9 2144.8,426.0 2146.5,419.3 2148.5,413.9 2150.8,409.6 2153.0,406.5 2154.0,405.6 2155.0,405.1 2156.0,405.2 2157.2,406.1 2158.8,407.8 2160.5,410.4 2166.2,420.3 2171.2,430.6 2174.5,435.7 2176.5,438.0 2178.5,439.7 2180.8,441.0 2183.0,441.9 2186.8,442.4 2192.0,442.1 2195.0,441.6 2201.0,440.0 2202.5,439.8 2204.0,439.9 2206.8,440.6 2229.0,447.9 2231.0,448.4 2232.5,448.4 2234.0,448.0 2236.0,447.2 2246.0,441.7 2251.8,438.1 2258.0,433.4 2260.8,431.6 2263.2,430.5 2265.8,430.1 2267.2,430.2 2269.0,430.7 2279.8,435.9 2290.8,439.9 2294.5,441.2 2295.2,441.2" stroke="#2828c8"/>
<path d="M1369.0,443.4 1396.5,439.4 1405.5,438.6 1414.8,438.0 1417.0,438.3 1419.2,439.1 1426.5,442.9 1428.8,443.9 1431.0,444.5 1433.0,444.6 1434.5,444.3 1437.0,443.5 1457.0,436.4 1461.0,435.4 1463.8,435.3 1466.2,435.8 1469.2,437.0 1476.5,440.9 1491.8,448.7 1501.0,453.0 1506.2,454.8 1508.2,455.2 1510.2,455.3 1512.2,455.0 1514.5,454.3 1542.5,440.3 1545.8,439.0 1548.8,438.4 1552.0,438.1 1555.5,438.2 1568.2,439.8 1589.8,441.5 1605.2,442.3 1612.2,442.3 1621.2,441.4 1631.2,439.7 1634.8,438.7 1642.5,435.7 1647.2,434.6 1654.0,433.7 1658.8,433.6 1661.5,433.9 1664.2,434.6 1666.5,435.3 1668.0,436.1 1670.0,438.0 1674.0,443.7 1675.2,444.8 1676.8,445.6 1678.2,445.9 1680.0,446.1 1686.2,445.7 1689.0,445.8 1693.2,446.3 1695.8,447.3 1697.8,448.8 1700.2,451.3 1707.0,459.7 1711.8,464.9 1713.8,466.6 1714.5,466.9 1715.2,467.0 1716.0,466.7 1717.0,466.0 1718.8,463.9 1721.0,459.9 1724.0,453.7 1725.8,448.8 1728.8,438.5 1731.5,430.7 1737.0,412.2 1738.0,409.6 1739.0,407.7 1740.0,406.6 1740.8,406.5 1741.5,406.9 1742.2,408.0 1744.5,412.5 1752.8,434.5 1764.2,462.2 1767.0,468.4 1768.0,470.0 1768.8,470.2 1769.5,469.8 1770.2,468.6 1771.0,466.9 1772.5,462.3 1776.5,447.8 1777.5,444.9 1778.8,442.3 1782.0,436.9 1785.0,433.0 1787.5,430.8 1788.5,430.3 1789.5,430.2 1790.8,430.9 1792.8,433.7 1795.2,438.2 1798.0,443.9 1802.5,454.8 1807.2,471.0 1808.8,475.5 1809.8,477.8 1810.5,479.0 1811.2,479.8 1812.0,480.0 1813.0,479.3 1814.2,477.6 1816.8,472.0 1822.0,456.7 1826.0,445.7 1834.0,420.1 1836.8,413.3 1837.8,411.4 1838.5,410.6 1839.0,410.6 1839.5,410.9 1840.8,412.5 1846.0,423.1 1847.5,426.9 1850.2,435.8 1852.2,440.2 1853.5,442.2 1855.0,444.1 1856.5,445.5 1858.2,446.8 1861.8,448.4 1863.2,448.8 1864.8,448.9 1867.0,448.3 1872.2,445.6 1873.5,445.2 1874.8,445.2 1876.0,445.6 1877.0,446.2 1882.2,450.5 1883.5,451.0 1884.8,450.9 1886.8,449.6 1889.0,447.2 1892.0,443.2 1898.8,432.9 1900.0,431.6 1901.0,431.4 1901.8,431.9 1902.5,432.8 1904.0,435.8 1909.0,450.7 1910.8,455.0 1911.5,456.3 1912.2,457.1 1913.0,457.4 1913.8,457.1 1914.8,455.7 1916.5,452.4 1920.0,444.5 1923.0,436.0 1925.5,427.3 1927.5,418.9 1928.5,413.5 1929.2,407.9 1931.0,391.0 1932.2,383.3 1937.0,362.5 1938.2,358.6 1939.0,357.2 1939.5,357.0 1940.0,357.3 1940.5,358.1 1941.5,361.1 1942.8,366.6 1943.8,372.9 1956.5,504.4 1958.0,516.7 1959.5,526.5 1960.8,532.0 1961.5,533.7 1962.0,533.9 1962.5,533.0 1963.0,531.2 1964.2,523.7 1968.5,486.2 1973.2,429.9 1977.0,381.0 1979.2,357.8 1981.0,345.2 1982.8,335.7 1984.5,329.1 1985.2,327.5 1985.8,327.0 1986.0,327.0 1986.5,327.5 1987.2,329.4 1988.5,334.2 1990.0,342.3 1991.0,350.1 2005.2,525.2 2006.8,540.4 2008.0,550.6 2009.2,557.8 2009.8,559.6 2010.0,560.1 2010.2,560.2 2010.8,559.1 2011.2,556.8 2012.5,547.0 2017.2,493.8 2022.2,423.9 2026.8,351.8 2029.0,322.7 2031.0,302.5 2032.8,288.2 2034.2,279.4 2035.0,276.8 2035.5,276.0 2035.8,276.0 2036.0,276.4 2036.8,278.7 2038.2,286.8 2039.8,298.6 2041.5,316.1 2044.5,353.3 2049.5,437.6 2052.0,473.0 2054.8,508.4 2056.0,522.6 2057.2,533.2 2058.8,541.7 2059.5,544.4 2060.0,545.2 2060.5,544.9 2061.0,543.8 2062.5,537.9 2066.0,519.7 2069.5,497.9 2071.8,485.5 2074.0,475.2 2076.5,466.5 2077.2,465.1 2077.8,464.8 2078.2,464.9 2079.8,466.0 2081.8,468.3 2083.0,470.1 2084.0,472.1 2087.8,482.3 2088.5,483.4 2089.0,483.5 2089.2,483.3 2090.2,481.0 2092.8,473.6 2096.8,459.5 2098.5,451.9 2101.5,434.2 2102.2,431.2 2102.8,430.2 2103.0,430.0 2103.2,430.1 2103.8,431.0 2105.0,435.3 2107.2,447.8 2111.8,478.7 2114.8,506.6 2116.0,516.6 2120.5,543.9 2122.2,552.8 2123.8,558.3 2124.5,559.7 2125.0,560.1 2125.5,559.7 2126.0,558.9 2126.8,557.0 2127.8,553.5 2129.8,543.3 2131.8,529.8 2133.8,513.3 2136.2,487.3 2140.0,439.4 2143.0,404.1 2145.5,380.0 2146.8,371.0 2148.0,365.2 2149.8,360.1 2150.8,358.4 2151.5,357.9 2152.2,358.0 2153.0,358.8 2154.0,360.3 2155.2,362.8 2160.8,375.7 2165.8,388.7 2168.5,394.4 2171.0,398.1 2174.8,402.8 2176.5,404.5 2180.2,407.7 2181.8,409.3 2183.0,411.1 2184.8,414.6 2188.5,424.0 2195.8,445.6 2201.8,467.3 2203.0,470.4 2204.2,472.1 2205.0,472.3 2205.8,471.9 2206.8,470.5 2208.0,467.9 2209.8,463.3 2214.8,448.4 2224.2,424.9 2225.5,422.6 2226.8,420.9 2228.0,419.9 2229.2,419.3 2231.0,419.2 2233.5,419.7 2243.2,423.1 2253.8,425.7 2256.5,426.7 2259.0,428.4 2260.5,429.8 2262.2,432.0 2264.5,435.2 2266.0,437.7 2267.5,441.2 2270.5,450.1 2272.8,454.4 2274.8,457.1 2277.0,459.5 2280.5,462.7 2282.5,464.0 2283.8,464.3 2285.2,463.9 2286.5,463.1 2288.0,461.5 2290.8,457.1 2295.0,447.7 2295.2,447.7" stroke="#e628e6"/>
<path d="M1369.0,1171.1 1377.8,1170.0 1388.5,1168.1 1396.8,1166.2 1404.8,1163.7 1410.8,1161.4 1415.0,1159.3 1421.8,1155.0 1426.0,1151.5 1428.5,1148.6 1430.8,1145.2 1432.8,1141.2 1434.5,1136.7 1436.8,1128.9 1441.5,1108.5 1444.2,1098.2 1448.5,1084.1 1449.8,1080.8 1451.2,1077.5 1452.8,1074.9 1454.2,1072.9 1455.5,1071.9 1457.0,1071.5 1458.5,1072.1 1460.0,1073.4 1461.8,1075.7 1463.0,1078.0 1464.5,1081.7 1466.8,1088.1 1470.0,1098.0 1473.5,1109.7 1475.8,1115.7 1477.0,1118.1 1478.8,1120.8 1488.2,1133.9 1490.2,1137.4 1492.0,1141.1 1493.8,1145.9 1495.2,1151.1 1496.5,1156.6 1497.5,1162.5 1500.8,1188.6 1505.2,1233.1 1507.8,1261.2 1512.8,1331.0 1521.5,1466.2 1522.5,1479.5 1523.8,1491.9 1525.0,1501.5 1526.5,1509.3 1527.0,1510.9 1527.5,1511.6 1528.0,1511.3 1528.5,1510.1 1529.5,1506.2 1530.5,1500.4 1531.2,1494.4 1532.8,1477.8 1534.0,1454.8 1541.0,1301.0 1543.0,1250.9 1545.2,1186.0 1548.0,1071.3 1549.5,1033.2 1553.5,974.1 1555.0,955.9 1556.8,937.6 1557.5,931.7 1558.8,925.6 1560.2,921.0 1560.8,920.1 1561.2,919.7 1562.0,920.0 1562.8,921.2 1564.5,925.8 1566.5,933.7 1567.8,941.0 1590.8,1122.5 1610.0,1283.4 1612.5,1303.1 1617.2,1337.6 1619.5,1351.3 1621.0,1358.9 1622.5,1365.3 1624.0,1369.9 1624.5,1370.9 1625.0,1371.4 1625.5,1371.3 1626.0,1370.7 1627.5,1366.7 1629.0,1360.5 1630.2,1353.2 1634.5,1314.8 1636.5,1293.8 1637.5,1279.2 1641.0,1211.1 1644.2,1141.5 1648.5,1041.9 1652.5,968.5 1654.0,950.8 1656.0,936.9 1657.2,931.2 1658.5,927.0 1659.8,923.9 1660.5,922.7 1661.0,922.3 1661.5,922.3 1662.0,922.7 1663.2,924.7 1664.5,927.9 1665.8,932.6 1667.8,945.2 1669.5,961.5 1671.0,985.2 1676.0,1098.8 1678.0,1139.0 1680.5,1180.2 1686.0,1261.6 1687.2,1282.7 1688.5,1296.8 1690.0,1307.2 1691.2,1313.8 1692.5,1319.2 1693.5,1322.3 1694.0,1323.3 1694.5,1323.8 1695.0,1323.6 1695.8,1322.3 1697.0,1318.4 1698.5,1310.9 1699.2,1304.6 1701.2,1279.6 1712.8,1112.9 1713.8,1102.2 1715.0,1092.7 1716.5,1084.3 1718.0,1078.1 1718.8,1076.0 1719.5,1074.8 1720.0,1074.6 1720.8,1075.6 1721.8,1078.4 1722.8,1082.5 1724.5,1092.7 1725.8,1103.2 1726.8,1113.6 1734.2,1204.7 1736.8,1231.4 1738.8,1245.3 1741.2,1258.5 1742.2,1262.6 1743.2,1265.7 1744.0,1267.2 1744.5,1267.6 1744.8,1267.5 1745.2,1266.7 1746.0,1263.7 1748.0,1252.6 1750.0,1238.4 1752.2,1219.4 1756.2,1181.3 1762.8,1106.4 1764.2,1091.0 1765.5,1080.7 1767.5,1068.0 1770.0,1056.3 1771.0,1053.5 1772.2,1051.1 1773.8,1049.1 1775.0,1048.3 1775.8,1048.4 1776.5,1049.0 1777.5,1050.5 1778.5,1052.6 1780.5,1058.2 1781.8,1063.9 1783.5,1082.0 1788.0,1135.7 1790.2,1166.6 1791.5,1179.2 1793.0,1190.2 1795.5,1204.3 1799.0,1226.9 1800.5,1234.6 1801.8,1238.6 1802.2,1239.4 1802.8,1239.6 1803.5,1238.9 1804.8,1235.7 1806.2,1230.0 1814.5,1189.4 1821.8,1148.8 1823.8,1140.1 1824.5,1138.1 1825.5,1136.2 1828.2,1132.6 1830.0,1130.8 1831.5,1129.6 1832.8,1129.0 1834.0,1128.6 1835.0,1128.8 1836.0,1129.2 1838.8,1132.0 1843.0,1137.5 1846.2,1142.4 1851.8,1152.5 1853.2,1154.3 1854.0,1154.8 1854.5,1154.9 1855.2,1154.6 1855.8,1154.2 1857.2,1151.7 1859.8,1146.4 1862.2,1139.1 1862.8,1138.2 1863.2,1138.1 1863.8,1138.8 1864.5,1140.8 1866.2,1147.1 1868.0,1155.4 1869.8,1165.5 1873.8,1192.3 1878.0,1229.9 1880.5,1246.5 1882.8,1258.1 1885.0,1267.8 1886.8,1273.5 1887.5,1274.9 1888.0,1275.3 1888.5,1274.8 1889.0,1272.9 1890.5,1262.5 1897.2,1204.5 1903.2,1159.4 1907.8,1131.0 1909.2,1125.1 1909.8,1124.1 1910.5,1123.5 1911.2,1124.1 1912.0,1125.7 1927.8,1170.1 1928.8,1172.5 1929.5,1173.3 1930.0,1172.9 1930.2,1172.5 1931.0,1170.0 1934.0,1152.5 1934.8,1149.3 1936.0,1145.3 1938.5,1138.5 1940.2,1134.9 1941.5,1133.5 1942.2,1133.6 1942.8,1134.1 1943.8,1136.3 1944.8,1139.8 1948.8,1159.5 1951.8,1170.6 1956.8,1191.2 1958.0,1195.3 1959.0,1197.9 1960.0,1199.7 1960.5,1200.1 1961.0,1200.2 1961.8,1199.7 1962.5,1198.3 1964.8,1191.7 1972.2,1163.3 1979.2,1138.8 1983.8,1124.3 1985.2,1120.0 1986.0,1118.5 1986.5,1118.0 1987.0,1117.8 1987.5,1117.8 1988.2,1118.3 1989.2,1119.3 1990.5,1121.0 1993.2,1125.8 1999.2,1137.6 2002.8,1145.8 2007.5,1158.9 2012.5,1173.7 2014.5,1180.4 2020.0,1201.0 2021.8,1206.4 2024.0,1212.3 2026.8,1218.3 2029.2,1222.7 2031.5,1225.5 2032.5,1226.2 2033.2,1226.5 2034.0,1226.3 2034.8,1225.6 2036.0,1222.6 2047.2,1185.4 2057.8,1149.0 2059.8,1142.9 2060.2,1141.8 2061.0,1141.2 2061.8,1141.6 2062.8,1143.1 2065.0,1149.2 2071.5,1171.3 2075.8,1189.6 2078.2,1197.7 2081.0,1204.2 2083.8,1209.2 2085.0,1210.8 2086.0,1211.7 2086.8,1211.9 2087.5,1211.4 2088.0,1210.5 2088.8,1208.2 2091.8,1196.6 2100.0,1160.9 2101.5,1152.9 2105.0,1129.7 2106.2,1123.2 2107.8,1118.2 2108.5,1117.0 2109.2,1116.5 2110.0,1116.8 2110.8,1117.7 2112.5,1121.7 2114.2,1127.3 2119.2,1145.8 2125.0,1163.6 2130.8,1180.2 2131.8,1182.4 2132.2,1183.0 2132.8,1183.2 2133.8,1182.8 2135.2,1181.0 2141.2,1169.3 2142.5,1167.2 2144.0,1165.3 2146.0,1163.4 2151.0,1159.3 2153.0,1158.1 2155.0,1157.6 2157.0,1157.7 2159.2,1158.5 2167.0,1162.8 2169.8,1164.0 2176.0,1166.0 2181.5,1167.3 2184.8,1167.7 2188.0,1167.7 2202.2,1166.3 2204.8,1166.4 2206.8,1166.8 2209.0,1167.8 2211.5,1169.6 2219.0,1176.5 2221.8,1178.7 2224.2,1180.1 2226.5,1180.6 2227.8,1180.5 2228.8,1180.2 2231.2,1178.7 2236.8,1174.2 2250.0,1162.8 2262.5,1152.6 2268.2,1148.2 2270.0,1147.3 2271.5,1146.9 2273.8,1146.7 2276.0,1147.2 2278.5,1148.3 2281.0,1150.0 2283.5,1152.2 2286.2,1155.1 2290.0,1159.5 2294.8,1165.6 2295.2,1165.7" stroke="#1e1e1e"/>
<path d="M1369.0,1170.6 1370.2,1170.4 1374.5,1169.1 1381.8,1166.2 1388.8,1162.7 1393.5,1159.1 1395.2,1158.0 1397.5,1157.1 1399.8,1157.0 1401.5,1157.4 1403.2,1158.2 1405.0,1159.3 1406.8,1160.8 1413.0,1168.1 1418.0,1174.8 1420.0,1176.8 1421.8,1177.8 1423.5,1178.3 1425.0,1178.1 1426.5,1177.3 1428.2,1175.6 1430.0,1173.4 1431.2,1171.2 1432.5,1168.2 1435.2,1159.2 1440.5,1139.3 1443.0,1130.6 1446.2,1120.6 1449.2,1113.1 1450.5,1110.5 1451.5,1109.0 1452.8,1107.6 1454.2,1106.4 1455.5,1105.8 1456.5,1105.7 1457.5,1106.2 1458.5,1107.0 1461.8,1111.1 1465.2,1117.1 1467.8,1122.6 1472.0,1133.9 1474.2,1139.0 1476.8,1143.6 1487.0,1161.0 1491.5,1169.1 1494.2,1174.8 1496.8,1181.7 1498.5,1187.9 1501.2,1199.8 1508.0,1231.6 1516.8,1275.4 1522.0,1306.0 1524.8,1319.9 1526.0,1325.4 1527.0,1328.8 1527.8,1330.5 1528.2,1331.0 1528.5,1331.0 1529.2,1330.1 1530.2,1327.2 1531.2,1322.7 1532.2,1317.0 1534.2,1301.4 1536.0,1283.7 1538.2,1253.5 1542.0,1190.1 1543.8,1164.3 1547.5,1114.9 1550.2,1082.1 1551.2,1072.2 1553.8,1050.9 1554.8,1045.6 1556.0,1041.5 1557.5,1038.1 1559.0,1035.9 1559.8,1035.1 1560.5,1034.8 1561.2,1034.9 1562.0,1035.5 1563.8,1038.3 1565.2,1042.4 1566.8,1048.2 1568.2,1056.7 1576.8,1114.9 1580.2,1134.2 1583.8,1149.6 1597.8,1202.9 1606.0,1237.2 1607.5,1242.1 1609.2,1246.7 1611.5,1251.5 1614.2,1256.7 1616.0,1259.4 1617.8,1261.5 1619.8,1263.1 1621.2,1263.7 1622.2,1263.6 1623.0,1263.1 1625.2,1260.3 1627.8,1255.8 1629.5,1251.1 1631.5,1242.3 1637.2,1212.8 1643.0,1191.4 1644.8,1183.4 1646.0,1174.3 1647.0,1163.5 1649.0,1128.1 1649.8,1117.9 1656.0,1053.2 1656.8,1048.9 1657.8,1045.7 1659.5,1041.6 1660.2,1040.5 1660.8,1040.3 1661.2,1040.5 1662.0,1041.5 1663.8,1045.7 1664.8,1049.0 1665.5,1053.5 1666.2,1062.1 1670.0,1097.8 1671.8,1116.8 1672.8,1132.4 1674.5,1170.1 1675.5,1181.9 1676.8,1191.5 1678.5,1201.8 1682.2,1221.3 1684.8,1232.3 1686.8,1239.2 1688.5,1243.9 1690.5,1247.9 1691.2,1248.9 1692.0,1249.4 1692.8,1249.1 1693.5,1248.1 1695.8,1242.9 1697.8,1236.2 1699.5,1228.0 1700.8,1219.7 1702.2,1207.3 1706.2,1165.1 1709.2,1139.9 1710.2,1134.2 1711.2,1130.3 1713.0,1125.5 1715.0,1121.3 1716.2,1119.4 1717.2,1118.6 1718.0,1118.5 1719.0,1119.1 1720.2,1120.7 1721.5,1123.0 1722.8,1126.0 1723.8,1129.1 1725.0,1134.4 1726.5,1142.2 1731.5,1177.0 1735.0,1197.2 1737.2,1208.6 1738.5,1213.8 1740.5,1219.4 1742.5,1223.2 1743.2,1224.0 1744.0,1224.2 1744.8,1223.5 1745.8,1221.7 1747.8,1216.4 1750.0,1208.5 1752.2,1198.8 1755.2,1182.9 1761.2,1144.1 1763.0,1135.1 1764.8,1127.8 1767.5,1118.7 1770.2,1111.6 1771.5,1109.6 1772.8,1108.2 1774.2,1107.0 1775.5,1106.5 1776.5,1106.8 1777.2,1107.5 1780.0,1111.9 1782.5,1117.4 1784.8,1124.1 1787.2,1135.1 1791.2,1158.6 1793.0,1167.2 1795.8,1177.9 1799.5,1194.0 1801.0,1198.5 1802.2,1200.7 1803.0,1201.3 1804.0,1201.2 1805.0,1200.3 1806.2,1198.6 1808.8,1193.9 1814.5,1181.0 1822.8,1165.5 1825.8,1160.4 1827.5,1157.9 1829.8,1155.4 1832.0,1153.4 1834.0,1152.1 1836.0,1151.2 1837.8,1150.7 1839.5,1150.6 1842.2,1151.3 1848.0,1154.2 1850.5,1155.0 1853.2,1155.3 1859.2,1155.1 1862.0,1155.6 1864.2,1156.8 1866.8,1159.6 1869.2,1163.6 1871.0,1167.8 1872.5,1173.3 1879.2,1204.5 1881.0,1211.6 1883.5,1219.8 1885.2,1224.8 1886.8,1227.9 1887.2,1228.6 1887.8,1228.8 1888.5,1228.3 1889.2,1226.9 1891.2,1221.2 1893.0,1214.1 1896.5,1197.5 1897.8,1188.4 1899.2,1169.5 1900.0,1163.9 1901.0,1158.9 1902.5,1153.6 1905.0,1146.6 1906.5,1143.1 1908.0,1140.6 1909.0,1139.9 1910.0,1140.0 1911.2,1140.8 1912.5,1142.3 1915.0,1146.7 1920.2,1157.8 1921.2,1160.3 1922.0,1163.0 1924.2,1175.6 1924.8,1177.3 1925.5,1178.5 1926.0,1178.6 1926.5,1178.4 1927.8,1176.7 1940.8,1155.2 1943.0,1152.7 1944.0,1152.1 1944.8,1151.8 1945.2,1151.9 1946.0,1152.3 1947.8,1154.5 1949.5,1157.6 1953.8,1166.3 1958.5,1174.7 1960.2,1177.3 1961.0,1177.8 1961.5,1177.9 1962.2,1177.4 1963.2,1176.0 1965.2,1171.7 1966.8,1167.1 1971.0,1152.3 1974.2,1143.7 1979.0,1130.2 1980.2,1127.4 1981.2,1125.7 1982.2,1124.6 1983.0,1124.3 1983.8,1124.6 1984.5,1125.4 1985.5,1127.4 1986.5,1130.0 1991.5,1144.6 1994.5,1157.2 1996.5,1162.7 1998.2,1166.0 2000.2,1168.6 2002.8,1170.9 2005.5,1172.6 2007.2,1173.3 2008.5,1173.3 2009.8,1172.5 2012.5,1169.9 2013.5,1169.4 2014.5,1169.5 2016.5,1170.2 2019.5,1171.8 2021.2,1173.0 2024.8,1176.2 2025.8,1176.8 2026.8,1176.8 2027.8,1176.3 2029.2,1174.9 2035.8,1167.2 2044.8,1157.5 2046.2,1156.7 2048.0,1156.5 2049.8,1157.1 2050.8,1157.9 2051.2,1158.8 2052.0,1161.0 2070.8,1224.3 2072.2,1228.3 2073.8,1231.5 2075.0,1233.4 2075.8,1234.1 2076.2,1234.3 2077.0,1234.1 2078.0,1232.9 2082.0,1224.8 2084.2,1219.2 2086.0,1213.2 2087.2,1206.9 2088.2,1200.6 2092.0,1169.7 2094.5,1153.9 2095.8,1148.4 2097.8,1142.7 2100.2,1137.9 2103.0,1134.1 2104.2,1133.0 2105.5,1132.4 2106.8,1132.4 2108.2,1133.4 2110.0,1135.4 2112.2,1138.8 2115.0,1143.9 2119.2,1154.9 2127.5,1170.9 2129.2,1173.9 2130.8,1176.0 2132.2,1177.4 2133.5,1178.0 2134.5,1178.0 2135.5,1177.5 2137.5,1175.3 2139.5,1172.1 2144.5,1162.5 2152.0,1150.0 2154.8,1146.4 2156.0,1145.4 2157.0,1145.1 2158.0,1145.2 2159.2,1146.0 2160.2,1147.0 2161.5,1148.7 2163.2,1151.9 2168.5,1162.5 2178.8,1179.1 2180.5,1181.3 2182.0,1182.9 2183.2,1183.8 2184.5,1184.3 2185.5,1184.2 2186.2,1183.7 2188.0,1181.6 2193.8,1170.1 2200.5,1159.3 2203.0,1156.4 2204.2,1155.5 2205.2,1155.2 2206.2,1155.3 2207.5,1155.6 2210.0,1157.3 2212.5,1159.8 2217.8,1165.8 2221.5,1169.5 2226.8,1175.2 2229.2,1177.1 2230.5,1177.7 2231.5,1177.9 2232.8,1177.9 2234.2,1177.6 2238.0,1176.0 2244.8,1172.1 2258.0,1165.3 2260.0,1163.9 2264.5,1160.4 2266.0,1159.6 2267.2,1159.2 2269.0,1159.1 2271.2,1159.4 2280.0,1162.0 2292.8,1164.8 2295.2,1165.1" stroke="#d8242c"/>
<path d="M1369.0,1170.7 1377.0,1170.7 1384.0,1170.2 1391.0,1169.2 1397.5,1167.6 1404.8,1165.2 1412.2,1162.0 1417.8,1159.0 1422.0,1155.9 1424.5,1153.4 1426.8,1150.5 1429.5,1145.7 1432.0,1140.6 1434.8,1133.9 1438.5,1123.6 1444.5,1104.2 1447.0,1097.0 1450.0,1090.5 1454.0,1084.1 1457.2,1079.8 1459.5,1077.5 1463.8,1074.7 1465.5,1073.9 1466.8,1073.5 1468.8,1073.5 1470.5,1074.5 1472.8,1076.8 1474.8,1080.0 1476.2,1083.8 1480.5,1097.0 1482.8,1105.2 1484.2,1111.8 1485.2,1117.7 1487.0,1130.2 1493.0,1175.0 1493.8,1182.1 1494.5,1192.5 1495.8,1223.8 1496.2,1232.3 1497.0,1241.0 1511.8,1387.5 1519.5,1467.9 1520.5,1475.0 1521.5,1480.0 1522.8,1484.5 1523.2,1485.5 1523.8,1485.9 1524.2,1485.3 1524.8,1484.2 1526.2,1479.0 1527.2,1473.7 1527.8,1469.4 1533.5,1378.5 1538.0,1290.5 1540.8,1226.1 1543.2,1152.3 1545.0,1071.0 1546.5,1031.5 1548.8,990.9 1553.0,928.0 1553.8,920.2 1554.2,917.0 1555.2,914.2 1555.8,913.5 1556.2,913.1 1556.8,913.1 1557.2,913.5 1558.5,915.7 1560.5,920.7 1562.2,926.2 1563.5,930.9 1564.8,936.8 1566.2,947.5 1577.2,1062.2 1581.8,1115.6 1584.0,1138.6 1594.8,1301.7 1595.8,1314.7 1597.2,1328.2 1600.5,1349.1 1602.0,1356.9 1602.5,1358.5 1603.0,1359.2 1603.5,1359.0 1604.5,1356.5 1606.2,1349.2 1614.0,1304.7 1621.8,1252.7 1627.8,1205.2 1630.0,1189.2 1630.8,1186.5 1633.0,1181.7 1633.5,1179.6 1635.0,1163.7 1638.2,1124.2 1642.5,1080.1 1645.2,1054.1 1650.0,1015.3 1651.2,1001.5 1652.2,995.0 1653.5,990.0 1655.5,984.2 1656.2,982.7 1657.0,982.0 1657.8,982.2 1658.5,983.3 1661.2,990.7 1662.8,996.5 1663.5,1001.9 1664.2,1014.2 1668.0,1058.7 1670.0,1080.8 1675.0,1130.8 1685.0,1251.4 1688.5,1285.0 1690.2,1298.9 1690.8,1300.4 1691.2,1300.3 1691.8,1299.6 1693.2,1296.2 1694.5,1292.2 1695.2,1288.0 1697.5,1268.1 1699.2,1249.3 1700.8,1229.6 1703.5,1188.0 1704.8,1172.7 1705.8,1162.9 1708.0,1146.0 1713.0,1113.7 1715.2,1101.9 1716.2,1098.1 1717.0,1096.2 1717.5,1096.0 1718.0,1096.6 1718.8,1098.7 1719.5,1101.6 1721.2,1110.2 1724.0,1125.9 1725.8,1139.6 1729.0,1172.5 1730.8,1185.0 1732.8,1197.0 1735.0,1207.9 1738.0,1219.6 1740.0,1225.7 1740.8,1227.2 1741.5,1228.0 1741.8,1228.0 1742.2,1227.7 1743.2,1225.9 1745.2,1220.1 1747.2,1211.8 1750.2,1196.7 1753.2,1178.7 1759.5,1133.1 1761.5,1121.5 1763.5,1111.8 1766.0,1101.9 1768.5,1093.8 1769.8,1091.1 1771.2,1088.6 1772.8,1086.6 1774.2,1085.1 1775.5,1084.5 1776.5,1084.9 1777.5,1086.3 1779.0,1089.2 1780.8,1093.5 1782.2,1097.9 1783.5,1102.5 1784.5,1107.1 1785.8,1115.4 1787.0,1125.7 1792.0,1175.4 1797.2,1213.1 1799.0,1224.5 1800.5,1232.3 1802.0,1237.7 1802.8,1239.5 1803.5,1240.5 1804.0,1240.4 1804.5,1239.8 1805.5,1237.5 1808.0,1228.0 1813.8,1202.4 1818.5,1175.2 1821.2,1162.7 1824.0,1153.4 1826.5,1146.0 1829.0,1139.9 1831.2,1135.6 1832.8,1133.5 1834.2,1132.1 1835.2,1131.9 1836.2,1132.6 1837.2,1134.0 1838.2,1135.8 1842.8,1145.9 1844.8,1149.6 1847.2,1153.0 1849.5,1155.7 1851.2,1157.3 1852.5,1157.8 1853.5,1157.5 1854.2,1156.5 1857.2,1148.5 1858.2,1146.7 1860.5,1143.3 1862.2,1141.2 1863.5,1140.1 1864.5,1139.8 1865.2,1140.2 1866.0,1141.2 1867.0,1143.2 1868.8,1147.6 1870.2,1152.8 1871.5,1158.8 1873.2,1171.7 1877.2,1209.4 1879.5,1226.8 1883.5,1252.0 1886.0,1266.2 1888.0,1274.9 1888.8,1277.0 1889.2,1277.7 1889.5,1277.7 1890.0,1277.3 1890.5,1275.7 1891.5,1268.0 1892.2,1256.7 1894.5,1212.4 1895.5,1198.6 1896.8,1186.2 1898.2,1176.0 1900.8,1163.3 1903.5,1150.2 1905.8,1141.2 1907.2,1136.7 1908.5,1134.5 1909.0,1134.2 1909.5,1134.3 1910.5,1136.2 1911.5,1139.9 1912.5,1145.0 1916.2,1169.5 1918.0,1178.8 1920.5,1188.7 1922.2,1194.3 1923.0,1196.2 1923.8,1197.5 1924.2,1197.8 1924.8,1197.6 1925.5,1196.1 1926.5,1193.2 1928.5,1185.7 1930.5,1176.0 1932.8,1163.2 1934.8,1149.4 1939.0,1108.5 1940.0,1102.4 1940.5,1100.6 1941.0,1099.5 1941.5,1099.4 1942.2,1100.8 1943.5,1105.7 1945.0,1113.1 1952.2,1157.4 1957.2,1186.1 1959.2,1196.3 1960.5,1201.4 1961.5,1204.0 1961.8,1204.3 1962.2,1204.4 1962.8,1203.8 1963.2,1202.6 1964.5,1197.1 1966.0,1186.7 1969.8,1152.0 1972.0,1132.9 1973.2,1117.2 1975.8,1073.8 1976.8,1062.4 1978.5,1046.0 1980.0,1033.0 1981.2,1024.1 1982.5,1017.6 1983.0,1015.8 1983.5,1015.2 1984.0,1015.7 1984.8,1017.7 1986.2,1024.3 1988.0,1035.4 1989.0,1045.1 2003.5,1283.1 2005.5,1307.6 2006.5,1315.3 2007.0,1317.4 2007.2,1317.8 2007.5,1317.6 2008.0,1315.7 2009.0,1310.1 2011.0,1293.3 2013.0,1271.4 2017.5,1216.8 2023.2,1140.1 2026.5,1079.7 2027.5,1065.1 2028.8,1051.1 2032.2,1022.0 2033.5,1013.4 2034.5,1008.1 2035.5,1004.7 2036.0,1004.1 2036.2,1004.0 2037.0,1005.1 2038.0,1008.4 2039.2,1014.8 2040.8,1024.7 2044.5,1053.9 2045.8,1065.4 2049.8,1117.3 2058.0,1202.1 2064.8,1279.0 2067.0,1306.3 2070.2,1355.3 2073.0,1389.8 2074.2,1401.7 2075.0,1406.0 2075.2,1406.7 2075.5,1406.9 2076.0,1405.7 2076.5,1403.0 2078.0,1389.5 2080.5,1359.6 2082.5,1331.5 2090.5,1205.0 2094.8,1120.0 2097.0,1083.9 2098.5,1065.3 2100.2,1048.0 2102.0,1035.2 2102.8,1031.2 2103.2,1029.9 2103.5,1030.0 2104.0,1031.3 2105.2,1037.7 2106.5,1046.8 2108.0,1060.0 2109.5,1076.1 2115.5,1148.3 2117.5,1167.2 2119.2,1179.1 2122.2,1195.6 2124.0,1202.6 2124.8,1204.6 2125.5,1205.7 2126.2,1205.9 2127.2,1204.8 2128.2,1202.5 2129.5,1198.3 2131.5,1189.7 2137.8,1159.5 2138.8,1153.2 2139.8,1144.9 2142.8,1111.6 2144.0,1102.5 2145.2,1095.9 2147.2,1087.8 2149.2,1081.6 2150.2,1079.7 2151.5,1078.0 2152.8,1076.7 2153.8,1076.1 2154.2,1076.0 2154.8,1076.3 2155.2,1077.3 2155.8,1079.0 2158.5,1090.1 2161.0,1102.3 2163.0,1114.0 2164.5,1124.5 2167.5,1152.9 2169.2,1166.0 2173.0,1185.0 2177.0,1209.9 2178.5,1218.1 2180.0,1224.1 2180.8,1226.0 2181.5,1226.8 2182.0,1226.7 2182.2,1226.5 2183.0,1225.0 2184.8,1219.4 2186.5,1212.7 2195.8,1172.2 2200.5,1150.4 2203.0,1140.1 2204.5,1135.5 2206.2,1131.5 2208.0,1128.5 2209.5,1127.0 2210.2,1126.9 2211.0,1127.4 2212.8,1130.0 2215.5,1135.5 2219.0,1143.9 2223.0,1154.2 2224.8,1159.4 2227.0,1167.2 2232.2,1187.0 2234.8,1195.1 2236.2,1199.0 2237.5,1201.5 2239.0,1203.6 2240.2,1204.5 2241.0,1204.7 2241.8,1204.6 2243.0,1203.6 2244.5,1201.5 2246.2,1197.9 2248.5,1192.2 2254.0,1176.7 2258.0,1166.5 2264.2,1148.8 2266.5,1143.3 2267.2,1142.0 2267.8,1141.5 2268.2,1141.4 2269.0,1141.6 2270.5,1143.4 2276.8,1155.0 2278.5,1157.7 2280.0,1159.4 2283.0,1161.5 2288.0,1164.1 2292.2,1165.8 2294.5,1166.4 2295.2,1166.4" stroke="#2a7f2a"/>
<path d="M1369.0,1170.7 1376.5,1170.4 1383.8,1169.7 1390.5,1168.6 1397.0,1166.9 1403.8,1164.7 1410.2,1161.9 1415.8,1159.0 1420.5,1155.8 1424.0,1152.8 1427.2,1149.2 1430.5,1144.6 1433.2,1139.8 1435.8,1134.4 1438.0,1128.7 1444.2,1109.1 1447.5,1100.5 1449.5,1096.2 1451.8,1092.0 1454.2,1088.1 1457.0,1084.4 1459.8,1081.5 1462.2,1079.6 1464.2,1078.7 1465.2,1078.6 1466.2,1078.8 1468.5,1080.0 1471.0,1082.3 1473.2,1085.3 1475.5,1089.1 1478.0,1094.7 1480.2,1100.7 1482.2,1107.4 1483.8,1113.8 1485.2,1121.9 1493.5,1173.7 1494.8,1187.6 1496.0,1224.3 1497.0,1237.8 1519.0,1457.5 1520.0,1464.6 1521.2,1470.9 1522.8,1476.9 1523.2,1478.2 1523.8,1478.6 1524.2,1478.0 1524.8,1476.7 1526.5,1469.9 1527.2,1466.0 1528.0,1459.8 1532.0,1400.8 1534.5,1357.9 1538.0,1289.3 1540.2,1238.1 1543.2,1152.5 1545.2,1065.9 1546.2,1042.4 1548.5,1002.1 1552.2,945.9 1553.0,937.3 1553.8,931.9 1554.8,927.1 1556.0,923.5 1557.0,922.2 1557.5,922.2 1558.0,922.6 1559.0,924.3 1561.2,930.0 1562.8,934.5 1564.8,942.4 1566.2,952.3 1577.2,1062.2 1581.8,1115.6 1584.0,1138.7 1594.8,1299.8 1595.8,1312.5 1597.2,1325.5 1600.8,1346.9 1602.0,1353.1 1602.5,1354.7 1603.0,1355.5 1603.5,1355.3 1604.2,1353.7 1606.0,1347.2 1612.8,1310.4 1615.5,1293.6 1621.8,1251.9 1627.5,1206.9 1629.8,1190.7 1630.5,1187.1 1632.8,1182.4 1633.5,1179.7 1635.0,1163.7 1638.2,1124.2 1642.5,1080.1 1645.2,1054.1 1650.0,1015.3 1651.2,1001.5 1652.2,995.0 1653.5,990.0 1655.5,984.2 1656.2,982.7 1657.0,982.0 1657.8,982.2 1658.5,983.3 1661.2,990.7 1662.8,996.5 1663.5,1001.9 1664.2,1014.2 1668.0,1058.7 1670.0,1080.8 1675.0,1130.8 1685.0,1251.4 1688.5,1285.0 1690.2,1298.9 1690.8,1300.4 1691.2,1300.3 1691.8,1299.6 1693.2,1296.2 1694.5,1292.2 1695.2,1288.0 1697.5,1268.1 1699.2,1249.3 1700.8,1229.6 1703.5,1188.0 1704.8,1172.7 1705.8,1162.9 1708.0,1146.0 1713.0,1113.7 1715.2,1101.9 1716.2,1098.1 1717.0,1096.2 1717.5,1096.0 1718.0,1096.6 1718.8,1098.6 1719.5,1101.5 1721.2,1110.0 1723.8,1124.6 1725.5,1137.8 1729.2,1174.4 1731.5,1190.3 1733.5,1202.6 1735.5,1212.7 1738.5,1225.7 1740.2,1231.3 1741.0,1232.9 1741.5,1233.3 1741.8,1233.4 1742.2,1233.0 1743.2,1231.0 1745.2,1224.3 1747.2,1215.0 1750.5,1197.3 1753.5,1178.2 1759.5,1133.3 1761.2,1122.6 1763.0,1113.9 1765.5,1103.6 1768.2,1094.4 1769.5,1091.6 1771.0,1089.0 1772.8,1086.6 1774.2,1085.1 1775.5,1084.5 1776.5,1084.9 1777.5,1086.3 1779.0,1089.2 1780.8,1093.5 1782.2,1097.9 1783.5,1102.5 1784.5,1107.1 1785.8,1115.4 1787.0,1125.7 1792.0,1175.4 1797.2,1213.1 1799.0,1224.5 1800.5,1232.3 1802.0,1237.7 1802.8,1239.5 1803.5,1240.5 1804.0,1240.4 1804.5,1239.8 1805.5,1237.5 1808.0,1228.0 1814.0,1201.2 1819.0,1173.2 1821.5,1161.9 1824.5,1150.9 1826.8,1143.5 1829.0,1137.5 1831.0,1133.4 1832.5,1131.3 1834.0,1130.0 1835.0,1129.8 1836.2,1130.7 1838.2,1133.9 1842.8,1143.8 1844.8,1147.6 1849.8,1154.8 1851.5,1156.6 1852.8,1157.3 1853.2,1157.2 1853.8,1156.8 1854.5,1155.6 1857.2,1146.8 1858.2,1144.6 1860.2,1141.1 1862.0,1138.5 1863.2,1137.1 1864.2,1136.5 1864.8,1136.5 1865.2,1136.9 1866.0,1138.0 1867.0,1140.0 1868.8,1144.8 1870.2,1150.4 1871.5,1156.8 1873.2,1169.9 1877.2,1209.0 1879.5,1226.7 1883.5,1252.2 1886.0,1266.3 1888.0,1275.0 1888.8,1276.9 1889.2,1277.6 1889.5,1277.6 1890.0,1277.1 1890.5,1275.5 1891.5,1267.6 1892.2,1256.3 1894.8,1208.4 1895.8,1195.7 1897.0,1184.2 1898.5,1174.6 1903.8,1149.1 1906.5,1138.8 1907.5,1136.1 1908.5,1134.5 1909.2,1134.2 1910.0,1135.0 1910.8,1137.0 1911.5,1139.9 1913.0,1148.2 1916.8,1172.6 1917.8,1177.7 1919.5,1184.8 1921.2,1191.2 1922.8,1195.5 1923.8,1197.3 1924.2,1197.7 1924.8,1197.5 1925.5,1196.4 1926.5,1194.0 1928.5,1187.4 1930.8,1177.5 1933.5,1163.2 1935.2,1150.6 1937.8,1125.1 1939.0,1114.5 1939.8,1110.3 1940.2,1108.6 1940.8,1107.8 1941.2,1107.8 1941.8,1108.7 1942.2,1110.4 1945.2,1124.1 1960.8,1199.4 1961.2,1201.2 1961.8,1202.2 1962.2,1202.4 1963.0,1201.3 1964.0,1197.7 1965.0,1192.1 1969.2,1160.1 1971.8,1145.3 1972.8,1138.2 1974.0,1125.0 1975.8,1094.6 1976.8,1082.4 1979.2,1060.0 1980.8,1048.2 1982.5,1037.4 1983.0,1035.1 1983.5,1034.2 1984.0,1034.6 1984.8,1036.3 1986.2,1042.2 1988.0,1051.9 1989.0,1060.1 1991.2,1090.9 1996.2,1165.9 2002.2,1248.1 2003.5,1262.8 2004.8,1273.7 2006.2,1282.8 2006.8,1284.6 2007.2,1285.2 2007.8,1284.0 2008.5,1280.5 2010.5,1268.3 2012.5,1252.9 2014.5,1235.2 2023.0,1150.8 2026.8,1102.5 2028.0,1089.9 2029.2,1080.0 2032.5,1059.8 2033.8,1053.8 2035.0,1049.4 2035.5,1048.4 2036.0,1047.8 2036.2,1047.7 2036.8,1047.9 2038.0,1050.3 2039.2,1054.3 2040.5,1059.5 2042.0,1067.2 2044.2,1081.9 2059.0,1205.8 2062.2,1237.1 2066.8,1285.3 2070.0,1328.6 2072.8,1359.7 2074.0,1370.9 2074.8,1374.9 2075.2,1375.9 2075.5,1375.8 2075.8,1375.3 2076.2,1373.1 2077.2,1366.0 2081.2,1329.2 2083.2,1307.8 2086.8,1263.3 2090.2,1214.3 2095.0,1132.0 2096.8,1106.6 2098.2,1089.0 2100.0,1072.2 2102.0,1057.3 2102.8,1052.9 2103.2,1051.4 2103.5,1051.4 2104.0,1052.4 2105.2,1057.4 2106.8,1066.1 2108.0,1075.0 2109.8,1091.5 2115.5,1153.7 2117.0,1165.7 2118.8,1175.2 2121.8,1187.3 2123.8,1193.3 2124.5,1194.7 2125.2,1195.6 2125.8,1195.7 2126.2,1195.5 2127.2,1194.3 2128.2,1192.4 2129.5,1189.1 2131.5,1182.4 2137.5,1159.5 2138.8,1153.3 2139.8,1146.7 2142.0,1125.8 2143.0,1118.1 2144.2,1111.1 2145.8,1104.9 2147.8,1098.5 2149.2,1094.8 2150.0,1093.7 2151.2,1092.4 2152.5,1091.6 2153.5,1091.3 2154.2,1091.4 2154.8,1091.7 2155.2,1092.5 2156.0,1094.5 2159.0,1104.4 2161.8,1115.8 2163.2,1123.5 2164.5,1131.1 2167.8,1157.2 2169.5,1168.4 2173.0,1184.3 2178.5,1213.3 2180.2,1219.5 2181.0,1221.1 2181.8,1221.9 2182.2,1222.0 2182.8,1221.6 2184.0,1219.2 2185.5,1215.0 2187.0,1209.7 2195.8,1172.4 2200.5,1149.7 2202.8,1140.9 2204.2,1136.4 2206.2,1131.7 2208.0,1128.6 2209.5,1127.1 2210.2,1126.9 2211.0,1127.4 2212.8,1130.0 2215.5,1135.5 2219.0,1143.9 2223.0,1154.2 2224.8,1159.4 2227.0,1167.2 2232.2,1187.0 2234.8,1195.1 2236.2,1199.0 2237.5,1201.5 2239.0,1203.6 2240.2,1204.5 2241.0,1204.7 2241.8,1204.6 2243.0,1203.6 2244.5,1201.5 2246.2,1197.9 2248.8,1191.5 2254.0,1176.7 2258.0,1166.5 2264.2,1148.8 2266.5,1143.3 2267.2,1142.0 2267.8,1141.5 2268.2,1141.4 2268.8,1141.5 2270.2,1143.0 2271.8,1145.5 2277.0,1155.4 2278.8,1158.0 2280.2,1159.6 2283.5,1161.8 2288.2,1164.2 2292.5,1165.9 2294.5,1166.4 2295.2,1166.4" stroke="#2828c8"/>
<path d="M1369.0,1169.6 1381.2,1166.6 1396.5,1163.2 1405.5,1161.8 1414.8,1161.0 1417.0,1161.5 1419.2,1162.7 1421.5,1164.4 1426.5,1168.8 1428.8,1170.3 1431.0,1171.3 1433.0,1171.4 1434.5,1171.0 1437.0,1169.8 1457.0,1158.3 1461.0,1156.9 1462.5,1156.7 1463.8,1156.7 1466.2,1157.5 1469.2,1159.4 1476.5,1165.6 1491.8,1177.9 1501.0,1184.8 1503.8,1186.5 1506.2,1187.7 1508.2,1188.3 1510.2,1188.4 1512.2,1188.1 1514.5,1186.8 1542.5,1164.7 1545.8,1162.6 1548.8,1161.6 1552.0,1161.2 1555.5,1161.3 1568.2,1163.9 1580.5,1165.6 1589.8,1166.6 1605.2,1167.8 1612.2,1167.7 1616.5,1167.3 1621.2,1166.4 1626.2,1165.2 1631.2,1163.7 1634.8,1162.1 1642.5,1157.3 1647.2,1155.5 1650.5,1154.7 1654.0,1154.1 1656.8,1153.8 1658.8,1153.9 1661.5,1154.5 1664.2,1155.5 1666.5,1156.7 1668.0,1158.0 1669.0,1159.3 1670.0,1161.0 1674.0,1170.0 1675.2,1171.8 1676.8,1173.0 1678.2,1173.6 1680.0,1173.8 1686.2,1173.2 1689.0,1173.3 1693.2,1174.2 1694.5,1174.8 1695.8,1175.7 1697.8,1178.1 1700.2,1182.1 1707.0,1195.4 1711.8,1203.8 1713.8,1206.5 1714.5,1207.0 1715.2,1207.0 1716.0,1206.7 1717.0,1205.5 1718.8,1202.1 1721.0,1195.8 1724.0,1185.9 1725.8,1178.1 1728.8,1161.7 1731.5,1149.4 1737.0,1119.9 1738.0,1115.9 1739.0,1112.8 1740.0,1111.1 1740.8,1110.8 1741.5,1111.6 1742.2,1113.2 1744.5,1120.4 1752.8,1155.4 1764.2,1199.4 1767.0,1209.3 1768.0,1211.8 1768.2,1212.1 1768.8,1212.2 1769.5,1211.5 1770.2,1209.6 1771.0,1206.9 1772.5,1199.6 1776.5,1176.5 1777.5,1172.0 1778.8,1167.8 1782.0,1159.2 1785.0,1153.0 1786.2,1151.0 1787.5,1149.5 1788.5,1148.7 1789.5,1148.5 1790.2,1149.0 1790.8,1149.7 1792.8,1154.2 1795.2,1161.3 1798.0,1170.4 1802.5,1187.7 1807.2,1213.4 1808.8,1220.6 1809.8,1224.2 1810.5,1226.2 1811.2,1227.4 1812.0,1227.7 1812.5,1227.4 1813.0,1226.7 1814.2,1223.9 1815.5,1220.0 1816.8,1215.1 1822.0,1190.7 1826.0,1173.2 1834.0,1132.5 1836.8,1121.7 1837.8,1118.6 1838.5,1117.4 1839.0,1117.3 1839.5,1117.8 1840.8,1120.4 1846.0,1137.3 1847.5,1143.3 1850.2,1157.4 1852.2,1164.5 1853.5,1167.7 1855.0,1170.7 1856.5,1173.0 1858.2,1174.9 1860.0,1176.4 1861.8,1177.5 1863.2,1178.1 1864.8,1178.2 1865.8,1178.0 1867.0,1177.3 1872.2,1173.0 1873.5,1172.5 1874.8,1172.4 1876.0,1173.0 1877.0,1174.0 1881.0,1179.4 1882.2,1180.8 1883.5,1181.6 1884.8,1181.4 1885.8,1180.6 1886.8,1179.4 1889.0,1175.6 1892.0,1169.2 1898.8,1152.9 1900.0,1150.8 1900.5,1150.5 1901.0,1150.5 1901.8,1151.3 1902.5,1152.8 1904.0,1157.5 1905.5,1164.0 1909.0,1181.2 1910.8,1188.0 1911.5,1190.0 1912.2,1191.4 1913.0,1191.8 1913.8,1191.3 1914.8,1189.1 1916.5,1183.8 1920.0,1171.2 1923.0,1157.8 1925.5,1143.9 1927.5,1130.6 1928.5,1122.1 1929.2,1113.2 1931.0,1086.2 1932.2,1074.0 1937.0,1040.9 1938.2,1034.7 1939.0,1032.6 1939.5,1032.1 1940.0,1032.6 1940.5,1034.0 1941.5,1038.7 1942.8,1047.5 1943.8,1057.4 1956.5,1266.6 1958.0,1286.1 1959.5,1301.6 1960.8,1310.5 1961.5,1313.2 1961.8,1313.5 1962.0,1313.4 1962.5,1312.0 1963.0,1309.2 1964.2,1297.2 1968.5,1237.6 1973.2,1148.0 1977.0,1070.3 1979.2,1033.5 1981.0,1013.5 1982.8,998.3 1984.5,987.8 1985.2,985.2 1985.8,984.5 1986.0,984.5 1986.5,985.4 1987.2,988.2 1988.5,995.9 1990.0,1008.8 1991.0,1021.1 2005.2,1299.7 2006.8,1323.8 2008.0,1340.0 2009.2,1351.4 2009.8,1354.3 2010.0,1355.1 2010.2,1355.3 2010.8,1353.6 2011.2,1349.8 2012.5,1334.2 2017.2,1249.7 2022.2,1138.5 2026.8,1023.9 2029.0,977.7 2031.0,945.5 2032.8,922.9 2034.2,908.8 2035.0,904.6 2035.5,903.4 2035.8,903.4 2036.0,904.0 2036.8,907.6 2038.2,920.5 2039.8,939.3 2041.5,967.1 2044.5,1026.3 2049.5,1160.3 2052.0,1216.6 2054.8,1272.9 2056.0,1295.4 2057.2,1312.3 2058.8,1325.9 2059.5,1330.2 2060.0,1331.5 2060.2,1331.4 2060.5,1330.9 2061.0,1329.2 2062.5,1319.8 2066.0,1290.8 2069.5,1256.3 2071.8,1236.5 2074.0,1220.1 2076.5,1206.3 2077.2,1204.0 2077.8,1203.6 2078.2,1203.7 2079.8,1205.4 2081.8,1209.2 2083.0,1212.0 2084.0,1215.1 2087.8,1231.4 2088.5,1233.2 2088.8,1233.4 2089.0,1233.4 2089.2,1233.0 2090.2,1229.4 2092.8,1217.5 2096.8,1195.2 2098.5,1183.1 2101.5,1155.0 2102.2,1150.2 2102.8,1148.5 2103.0,1148.2 2103.2,1148.4 2103.8,1149.9 2105.0,1156.6 2107.2,1176.6 2111.8,1225.6 2114.8,1270.0 2116.0,1286.0 2120.5,1329.4 2122.2,1343.6 2123.8,1352.2 2124.5,1354.5 2125.0,1355.0 2125.5,1354.5 2126.0,1353.2 2126.8,1350.2 2127.8,1344.6 2129.8,1328.5 2131.8,1307.0 2133.8,1280.7 2136.2,1239.4 2140.0,1163.2 2143.0,1107.1 2145.5,1068.7 2146.8,1054.4 2148.0,1045.3 2149.8,1037.1 2150.8,1034.5 2151.5,1033.6 2152.2,1033.8 2153.0,1035.0 2154.0,1037.4 2155.2,1041.4 2160.8,1061.9 2165.8,1082.6 2168.5,1091.6 2171.0,1097.5 2174.8,1104.9 2176.5,1107.7 2180.2,1112.7 2181.8,1115.3 2183.0,1118.2 2184.8,1123.8 2186.5,1130.3 2188.5,1138.8 2195.8,1173.0 2201.8,1207.5 2203.0,1212.4 2203.8,1214.4 2204.2,1215.2 2205.0,1215.5 2205.8,1214.8 2206.8,1212.6 2208.0,1208.5 2209.8,1201.2 2214.8,1177.6 2224.2,1140.1 2225.5,1136.5 2226.8,1133.8 2228.0,1132.1 2229.2,1131.3 2231.0,1131.1 2233.5,1131.9 2236.0,1133.1 2243.2,1137.2 2253.8,1141.4 2256.5,1143.0 2259.0,1145.7 2260.5,1148.0 2262.2,1151.4 2264.5,1156.5 2266.0,1160.6 2267.5,1166.1 2270.5,1180.2 2271.5,1183.7 2272.8,1187.1 2274.8,1191.3 2277.0,1195.2 2280.5,1200.2 2282.5,1202.4 2283.8,1202.8 2284.5,1202.7 2285.2,1202.2 2286.5,1200.8 2288.0,1198.3 2289.2,1195.4 2290.8,1191.3 2292.5,1185.6 2295.0,1176.4 2295.2,1176.4" stroke="#e628e6"/>
</g>
<rect x="2324" y="0" width="25" height="1738" fill="#fff"/>
</svg>
</body></html>
